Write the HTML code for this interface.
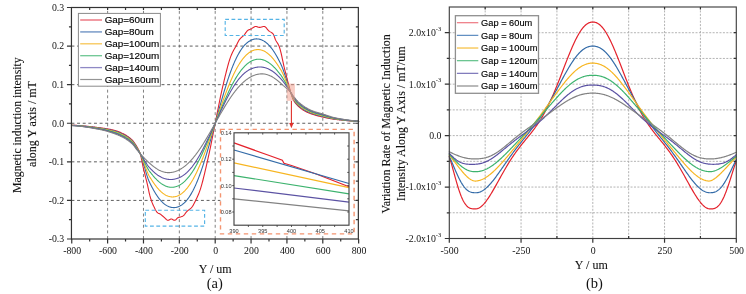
<!DOCTYPE html>
<html><head><meta charset="utf-8"><style>
html,body{margin:0;padding:0;background:#fff;}
body{width:746px;height:294px;overflow:hidden;}
svg{display:block;will-change:transform;}
.ga{stroke:#555;stroke-width:0.95;stroke-dasharray:2.95 2.68;fill:none;}
.gav{stroke:#808080;stroke-width:1;stroke-dasharray:2.95 2.68;fill:none;}
.gb{stroke:#aaaaaa;stroke-width:0.9;stroke-dasharray:2 1.42;fill:none;}
.cv{fill:none;stroke-width:1.1;stroke-linejoin:round;stroke-linecap:round;}
.cvb{fill:none;stroke-width:1.2;stroke-linejoin:round;stroke-linecap:round;}
.ci{fill:none;stroke-width:1.2;}
.fr{fill:none;stroke:#333;stroke-width:1.2;}
.frb{fill:none;stroke:#404040;stroke-width:1.15;}
.tk{fill:none;stroke:#333;stroke-width:1.2;}
.tkb{fill:none;stroke:#333;stroke-width:1.2;}
.tki{fill:none;stroke:#333;stroke-width:0.8;}
.fi{fill:none;stroke:#444;stroke-width:1.15;}
text{font-family:"Liberation Serif",serif;fill:#111;}
.tl{font-size:9.8px;}
.sup{font-size:6.5px;}
.ti{font-size:12px;stroke:#111;stroke-width:0.1px;}
.cap{font-family:"Liberation Serif",serif;font-size:14.5px;}
.lg{fill:#fff;stroke:#8a8a8a;stroke-width:1;}
.lgb{fill:#fff;stroke:#8f8f8f;stroke-width:1.3;}
.ll{stroke-width:1.3;}
.lt{font-family:"Liberation Sans",sans-serif;font-size:9.9px;fill:#000;stroke:#000;stroke-width:0.15px;}
.ltb{font-family:"Liberation Sans",sans-serif;font-size:9.25px;fill:#000;stroke:#000;stroke-width:0.15px;}
.il{font-family:"Liberation Sans",sans-serif;font-size:5.6px;fill:#333;}
.bb{fill:none;stroke:#55b4e6;stroke-width:1.15;stroke-dasharray:3.8 2.5;}
.ob{stroke:#f49470;stroke-width:1.4;stroke-dasharray:4.4 3.6;}
</style></head>
<body><svg width="746" height="294" viewBox="0 0 746 294">
<line x1="107.61" y1="239.0" x2="107.61" y2="7.5" class="gav"/>
<line x1="143.48" y1="239.0" x2="143.48" y2="7.5" class="gav"/>
<line x1="179.34" y1="239.0" x2="179.34" y2="7.5" class="gav"/>
<line x1="215.20" y1="239.0" x2="215.20" y2="7.5" class="gav"/>
<line x1="251.06" y1="239.0" x2="251.06" y2="7.5" class="gav"/>
<line x1="286.93" y1="239.0" x2="286.93" y2="7.5" class="gav"/>
<line x1="322.79" y1="239.0" x2="322.79" y2="7.5" class="gav"/>
<line x1="71.45" y1="46.08" x2="358.35" y2="46.08" class="ga"/>
<line x1="71.45" y1="84.67" x2="358.35" y2="84.67" class="ga"/>
<line x1="71.45" y1="123.25" x2="358.35" y2="123.25" class="ga"/>
<line x1="71.45" y1="161.83" x2="358.35" y2="161.83" class="ga"/>
<line x1="71.45" y1="200.42" x2="358.35" y2="200.42" class="ga"/>
<path d="M71.75,125.18 L72.20,125.20 L72.65,125.21 L73.09,125.23 L73.54,125.25 L73.99,125.27 L74.44,125.29 L74.89,125.32 L75.34,125.34 L75.78,125.36 L76.23,125.39 L76.68,125.42 L77.13,125.45 L77.58,125.47 L78.03,125.50 L78.47,125.53 L78.92,125.57 L79.37,125.60 L79.82,125.63 L80.27,125.67 L80.72,125.70 L81.16,125.74 L81.61,125.77 L82.06,125.81 L82.51,125.85 L82.96,125.89 L83.41,125.93 L83.85,125.97 L84.30,126.01 L84.75,126.05 L85.20,126.09 L85.65,126.13 L86.09,126.18 L86.54,126.22 L86.99,126.27 L87.44,126.31 L87.89,126.36 L88.34,126.41 L88.78,126.45 L89.23,126.50 L89.68,126.55 L90.13,126.60 L90.58,126.65 L91.03,126.70 L91.47,126.75 L91.92,126.80 L92.37,126.85 L92.82,126.90 L93.27,126.95 L93.72,127.00 L94.16,127.06 L94.61,127.11 L95.06,127.16 L95.51,127.22 L95.96,127.27 L96.41,127.32 L96.85,127.38 L97.30,127.43 L97.75,127.49 L98.20,127.54 L98.65,127.60 L99.10,127.65 L99.54,127.71 L99.99,127.77 L100.44,127.82 L100.89,127.88 L101.34,127.94 L101.78,128.00 L102.23,128.06 L102.68,128.12 L103.13,128.19 L103.58,128.25 L104.03,128.32 L104.47,128.38 L104.92,128.45 L105.37,128.52 L105.82,128.59 L106.27,128.67 L106.72,128.74 L107.16,128.82 L107.61,128.89 L108.06,128.97 L108.51,129.06 L108.96,129.14 L109.41,129.22 L109.85,129.31 L110.30,129.40 L110.75,129.49 L111.20,129.59 L111.65,129.68 L112.10,129.78 L112.54,129.88 L112.99,129.98 L113.44,130.09 L113.89,130.20 L114.34,130.31 L114.78,130.42 L115.23,130.54 L115.68,130.66 L116.13,130.79 L116.58,130.93 L117.03,131.08 L117.47,131.24 L117.92,131.40 L118.37,131.57 L118.82,131.75 L119.27,131.93 L119.72,132.12 L120.16,132.32 L120.61,132.52 L121.06,132.72 L121.51,132.93 L121.96,133.15 L122.41,133.37 L122.85,133.59 L123.30,133.81 L123.75,134.05 L124.20,134.28 L124.65,134.52 L125.10,134.77 L125.54,135.03 L125.99,135.29 L126.44,135.56 L126.89,135.85 L127.34,136.14 L127.79,136.44 L128.23,136.75 L128.68,137.07 L129.13,137.41 L129.58,137.76 L130.03,138.12 L130.47,138.49 L130.92,138.88 L131.37,139.29 L131.82,139.71 L132.27,140.15 L132.72,140.64 L133.16,141.17 L133.61,141.74 L134.06,142.36 L134.51,143.00 L134.96,143.68 L135.41,144.38 L135.85,145.10 L136.30,145.84 L136.75,146.60 L137.20,147.36 L137.65,148.13 L138.10,148.92 L138.54,149.76 L138.99,150.66 L139.44,151.65 L139.89,152.75 L140.34,154.00 L140.79,155.59 L141.23,157.54 L141.68,159.72 L142.13,162.03 L142.58,164.33 L143.03,166.52 L143.48,168.51 L143.92,170.38 L144.37,172.21 L144.82,174.00 L145.27,175.77 L145.72,177.54 L146.16,179.33 L146.61,181.15 L147.06,183.02 L147.51,184.99 L147.96,187.07 L148.41,189.19 L148.85,191.30 L149.30,193.31 L149.75,195.18 L150.20,196.83 L150.65,198.30 L151.10,199.69 L151.54,201.00 L151.99,202.22 L152.44,203.36 L152.89,204.41 L153.34,205.40 L153.79,206.37 L154.23,207.32 L154.68,208.26 L155.13,209.15 L155.58,209.99 L156.03,210.76 L156.48,211.45 L156.92,212.05 L157.37,212.53 L157.82,212.90 L158.27,213.18 L158.72,213.40 L159.16,213.60 L159.61,213.80 L160.06,214.03 L160.51,214.31 L160.96,214.62 L161.41,214.97 L161.85,215.34 L162.30,215.72 L162.75,216.12 L163.20,216.51 L163.65,216.91 L164.10,217.29 L164.54,217.66 L164.99,218.07 L165.44,218.54 L165.89,219.01 L166.34,219.45 L166.79,219.84 L167.23,220.12 L167.68,220.27 L168.13,220.26 L168.58,220.14 L169.03,219.93 L169.48,219.68 L169.92,219.43 L170.37,219.20 L170.82,219.04 L171.27,218.98 L171.72,219.04 L172.17,219.20 L172.61,219.43 L173.06,219.68 L173.51,219.93 L173.96,220.14 L174.41,220.26 L174.85,220.27 L175.30,220.08 L175.75,219.74 L176.20,219.29 L176.65,218.80 L177.10,218.32 L177.54,217.91 L177.99,217.62 L178.44,217.46 L178.89,217.34 L179.34,217.24 L179.79,217.15 L180.23,217.05 L180.68,216.92 L181.13,216.77 L181.58,216.59 L182.03,216.39 L182.48,216.17 L182.92,215.92 L183.37,215.64 L183.82,215.29 L184.27,214.83 L184.72,214.28 L185.17,213.67 L185.61,213.05 L186.06,212.44 L186.51,211.88 L186.96,211.40 L187.41,210.98 L187.85,210.60 L188.30,210.25 L188.75,209.92 L189.20,209.59 L189.65,209.25 L190.10,208.91 L190.54,208.53 L190.99,208.12 L191.44,207.66 L191.89,207.15 L192.34,206.54 L192.79,205.86 L193.23,205.11 L193.68,204.30 L194.13,203.45 L194.58,202.57 L195.03,201.66 L195.48,200.75 L195.92,199.85 L196.37,198.94 L196.82,198.02 L197.27,197.07 L197.72,196.09 L198.17,195.06 L198.61,193.99 L199.06,192.86 L199.51,191.67 L199.96,190.40 L200.41,189.05 L200.86,187.62 L201.30,186.13 L201.75,184.56 L202.20,182.93 L202.65,181.25 L203.10,179.51 L203.54,177.72 L203.99,175.90 L204.44,174.03 L204.89,172.14 L205.34,170.21 L205.79,168.27 L206.23,166.31 L206.68,164.33 L207.13,162.35 L207.58,160.37 L208.03,158.39 L208.48,156.41 L208.92,154.39 L209.37,152.31 L209.82,150.19 L210.27,148.03 L210.72,145.83 L211.17,143.60 L211.61,141.35 L212.06,139.09 L212.51,136.81 L212.96,134.53 L213.41,132.25 L213.86,129.97 L214.30,127.71 L214.75,125.47 L215.20,123.25 L215.65,121.03 L216.10,118.77 L216.54,116.50 L216.99,114.21 L217.44,111.90 L217.89,109.60 L218.34,107.31 L218.79,105.03 L219.23,102.77 L219.68,100.53 L220.13,98.34 L220.58,96.19 L221.03,94.09 L221.48,92.04 L221.92,90.07 L222.37,88.15 L222.82,86.23 L223.27,84.31 L223.72,82.40 L224.17,80.49 L224.61,78.60 L225.06,76.72 L225.51,74.87 L225.96,73.04 L226.41,71.25 L226.86,69.49 L227.30,67.77 L227.75,66.10 L228.20,64.48 L228.65,62.92 L229.10,61.41 L229.55,59.97 L229.99,58.60 L230.44,57.31 L230.89,56.09 L231.34,54.96 L231.79,53.91 L232.23,52.94 L232.68,52.03 L233.13,51.17 L233.58,50.35 L234.03,49.56 L234.48,48.79 L234.92,48.01 L235.37,47.22 L235.82,46.42 L236.27,45.57 L236.72,44.68 L237.17,43.77 L237.61,42.86 L238.06,41.96 L238.51,41.11 L238.96,40.33 L239.41,39.62 L239.86,39.03 L240.30,38.52 L240.75,38.06 L241.20,37.65 L241.65,37.26 L242.10,36.89 L242.55,36.52 L242.99,36.14 L243.44,35.73 L243.89,35.28 L244.34,34.77 L244.79,34.19 L245.23,33.57 L245.68,32.93 L246.13,32.30 L246.58,31.71 L247.03,31.16 L247.48,30.69 L247.92,30.32 L248.37,30.05 L248.82,29.83 L249.27,29.63 L249.72,29.46 L250.17,29.29 L250.61,29.11 L251.06,28.91 L251.51,28.68 L251.96,28.40 L252.41,28.10 L252.86,27.79 L253.30,27.48 L253.75,27.19 L254.20,26.93 L254.65,26.72 L255.10,26.57 L255.55,26.49 L255.99,26.50 L256.44,26.58 L256.89,26.71 L257.34,26.88 L257.79,27.05 L258.24,27.21 L258.68,27.33 L259.13,27.40 L259.58,27.40 L260.03,27.35 L260.48,27.27 L260.92,27.17 L261.37,27.05 L261.82,26.92 L262.27,26.79 L262.72,26.68 L263.17,26.58 L263.61,26.51 L264.06,26.48 L264.51,26.53 L264.96,26.73 L265.41,27.05 L265.86,27.47 L266.30,27.96 L266.75,28.50 L267.20,29.06 L267.65,29.62 L268.10,30.16 L268.55,30.64 L268.99,31.04 L269.44,31.36 L269.89,31.64 L270.34,31.89 L270.79,32.14 L271.24,32.39 L271.68,32.67 L272.13,32.99 L272.58,33.37 L273.03,33.84 L273.48,34.59 L273.92,35.61 L274.37,36.79 L274.82,38.02 L275.27,39.18 L275.72,40.17 L276.17,41.00 L276.61,41.75 L277.06,42.45 L277.51,43.16 L277.96,43.90 L278.41,44.72 L278.86,45.66 L279.30,46.78 L279.75,48.11 L280.20,49.65 L280.65,51.36 L281.10,53.21 L281.55,55.17 L281.99,57.20 L282.44,59.29 L282.89,61.39 L283.34,63.48 L283.79,65.53 L284.24,67.50 L284.68,69.38 L285.13,71.15 L285.58,72.91 L286.03,74.65 L286.48,76.38 L286.93,78.10 L287.37,79.82 L287.82,81.52 L288.27,83.23 L288.72,84.94 L289.17,86.69 L289.61,88.46 L290.06,90.19 L290.51,91.80 L290.96,93.24 L291.41,94.64 L291.86,96.00 L292.30,97.28 L292.75,98.46 L293.20,99.51 L293.65,100.41 L294.10,101.16 L294.55,101.86 L294.99,102.52 L295.44,103.13 L295.89,103.69 L296.34,104.23 L296.79,104.73 L297.24,105.20 L297.68,105.65 L298.13,106.08 L298.58,106.49 L299.03,106.89 L299.48,107.28 L299.93,107.66 L300.37,108.02 L300.82,108.38 L301.27,108.72 L301.72,109.05 L302.17,109.36 L302.61,109.67 L303.06,109.96 L303.51,110.25 L303.96,110.52 L304.41,110.79 L304.86,111.04 L305.30,111.29 L305.75,111.52 L306.20,111.75 L306.65,111.97 L307.10,112.18 L307.55,112.38 L307.99,112.58 L308.44,112.77 L308.89,112.96 L309.34,113.14 L309.79,113.31 L310.24,113.48 L310.68,113.65 L311.13,113.81 L311.58,113.97 L312.03,114.12 L312.48,114.27 L312.93,114.42 L313.37,114.56 L313.82,114.70 L314.27,114.84 L314.72,114.98 L315.17,115.12 L315.62,115.25 L316.06,115.38 L316.51,115.51 L316.96,115.63 L317.41,115.75 L317.86,115.88 L318.30,115.99 L318.75,116.11 L319.20,116.23 L319.65,116.34 L320.10,116.45 L320.55,116.56 L320.99,116.67 L321.44,116.77 L321.89,116.87 L322.34,116.98 L322.79,117.08 L323.24,117.18 L323.68,117.27 L324.13,117.37 L324.58,117.47 L325.03,117.57 L325.48,117.66 L325.93,117.76 L326.37,117.85 L326.82,117.95 L327.27,118.04 L327.72,118.13 L328.17,118.22 L328.62,118.31 L329.06,118.39 L329.51,118.48 L329.96,118.56 L330.41,118.64 L330.86,118.72 L331.30,118.80 L331.75,118.88 L332.20,118.95 L332.65,119.02 L333.10,119.09 L333.55,119.16 L333.99,119.22 L334.44,119.28 L334.89,119.34 L335.34,119.39 L335.79,119.44 L336.24,119.50 L336.68,119.55 L337.13,119.60 L337.58,119.66 L338.03,119.71 L338.48,119.76 L338.93,119.81 L339.37,119.86 L339.82,119.91 L340.27,119.96 L340.72,120.01 L341.17,120.06 L341.62,120.11 L342.06,120.16 L342.51,120.21 L342.96,120.26 L343.41,120.30 L343.86,120.35 L344.31,120.40 L344.75,120.44 L345.20,120.49 L345.65,120.53 L346.10,120.57 L346.55,120.61 L346.99,120.65 L347.44,120.69 L347.89,120.73 L348.34,120.77 L348.79,120.81 L349.24,120.84 L349.68,120.88 L350.13,120.91 L350.58,120.95 L351.03,120.98 L351.48,121.01 L351.93,121.04 L352.37,121.07 L352.82,121.09 L353.27,121.12 L353.72,121.14 L354.17,121.17 L354.62,121.19 L355.06,121.21 L355.51,121.23 L355.96,121.25 L356.41,121.26 L356.86,121.28 L357.31,121.29 L357.75,121.30 L358.20,121.31 L358.65,121.32" stroke="#e4222c" class="cv"/>
<path d="M71.75,125.26 L72.20,125.27 L72.65,125.29 L73.09,125.31 L73.54,125.33 L73.99,125.36 L74.44,125.38 L74.89,125.40 L75.34,125.43 L75.78,125.46 L76.23,125.49 L76.68,125.52 L77.13,125.55 L77.58,125.58 L78.03,125.61 L78.47,125.64 L78.92,125.68 L79.37,125.71 L79.82,125.75 L80.27,125.79 L80.72,125.83 L81.16,125.87 L81.61,125.91 L82.06,125.95 L82.51,125.99 L82.96,126.03 L83.41,126.08 L83.85,126.12 L84.30,126.17 L84.75,126.21 L85.20,126.26 L85.65,126.31 L86.09,126.36 L86.54,126.41 L86.99,126.46 L87.44,126.51 L87.89,126.56 L88.34,126.61 L88.78,126.66 L89.23,126.72 L89.68,126.77 L90.13,126.82 L90.58,126.88 L91.03,126.93 L91.47,126.99 L91.92,127.05 L92.37,127.10 L92.82,127.16 L93.27,127.22 L93.72,127.27 L94.16,127.33 L94.61,127.39 L95.06,127.45 L95.51,127.51 L95.96,127.57 L96.41,127.63 L96.85,127.69 L97.30,127.75 L97.75,127.81 L98.20,127.87 L98.65,127.94 L99.10,128.00 L99.54,128.06 L99.99,128.12 L100.44,128.19 L100.89,128.25 L101.34,128.32 L101.78,128.39 L102.23,128.45 L102.68,128.53 L103.13,128.60 L103.58,128.67 L104.03,128.75 L104.47,128.82 L104.92,128.90 L105.37,128.98 L105.82,129.06 L106.27,129.14 L106.72,129.23 L107.16,129.32 L107.61,129.40 L108.06,129.49 L108.51,129.59 L108.96,129.68 L109.41,129.78 L109.85,129.87 L110.30,129.97 L110.75,130.08 L111.20,130.18 L111.65,130.29 L112.10,130.39 L112.54,130.51 L112.99,130.62 L113.44,130.73 L113.89,130.85 L114.34,130.97 L114.78,131.09 L115.23,131.22 L115.68,131.35 L116.13,131.49 L116.58,131.64 L117.03,131.80 L117.47,131.96 L117.92,132.13 L118.37,132.30 L118.82,132.48 L119.27,132.67 L119.72,132.86 L120.16,133.05 L120.61,133.26 L121.06,133.46 L121.51,133.68 L121.96,133.89 L122.41,134.12 L122.85,134.34 L123.30,134.57 L123.75,134.80 L124.20,135.04 L124.65,135.29 L125.10,135.54 L125.54,135.80 L125.99,136.06 L126.44,136.34 L126.89,136.62 L127.34,136.91 L127.79,137.21 L128.23,137.52 L128.68,137.85 L129.13,138.18 L129.58,138.53 L130.03,138.89 L130.47,139.26 L130.92,139.65 L131.37,140.05 L131.82,140.46 L132.27,140.90 L132.72,141.39 L133.16,141.91 L133.61,142.48 L134.06,143.09 L134.51,143.72 L134.96,144.38 L135.41,145.06 L135.85,145.76 L136.30,146.48 L136.75,147.20 L137.20,147.93 L137.65,148.67 L138.10,149.45 L138.54,150.25 L138.99,151.10 L139.44,151.99 L139.89,152.93 L140.34,153.94 L140.79,155.04 L141.23,156.24 L141.68,157.53 L142.13,158.90 L142.58,160.34 L143.03,161.84 L143.48,163.37 L143.92,164.94 L144.37,166.53 L144.82,168.13 L145.27,169.72 L145.72,171.29 L146.16,172.84 L146.61,174.35 L147.06,175.80 L147.51,177.19 L147.96,178.50 L148.41,179.72 L148.85,180.85 L149.30,181.86 L149.75,182.79 L150.20,183.67 L150.65,184.55 L151.10,185.44 L151.54,186.32 L151.99,187.18 L152.44,188.03 L152.89,188.86 L153.34,189.67 L153.79,190.47 L154.23,191.25 L154.68,192.01 L155.13,192.76 L155.58,193.48 L156.03,194.19 L156.48,194.88 L156.92,195.55 L157.37,196.21 L157.82,196.84 L158.27,197.46 L158.72,198.06 L159.16,198.64 L159.61,199.20 L160.06,199.73 L160.51,200.26 L160.96,200.76 L161.41,201.24 L161.85,201.71 L162.30,202.16 L162.75,202.59 L163.20,202.99 L163.65,203.38 L164.10,203.76 L164.54,204.11 L164.99,204.45 L165.44,204.77 L165.89,205.07 L166.34,205.35 L166.79,205.62 L167.23,205.87 L167.68,206.10 L168.13,206.32 L168.58,206.51 L169.03,206.69 L169.48,206.86 L169.92,207.01 L170.37,207.13 L170.82,207.25 L171.27,207.35 L171.72,207.44 L172.17,207.49 L172.61,207.53 L173.06,207.56 L173.51,207.58 L173.96,207.59 L174.41,207.58 L174.85,207.54 L175.30,207.49 L175.75,207.43 L176.20,207.35 L176.65,207.25 L177.10,207.13 L177.54,207.00 L177.99,206.86 L178.44,206.69 L178.89,206.50 L179.34,206.30 L179.79,206.09 L180.23,205.85 L180.68,205.59 L181.13,205.32 L181.58,205.03 L182.03,204.72 L182.48,204.39 L182.92,204.04 L183.37,203.67 L183.82,203.29 L184.27,202.88 L184.72,202.45 L185.17,202.00 L185.61,201.53 L186.06,201.04 L186.51,200.52 L186.96,199.99 L187.41,199.43 L187.85,198.85 L188.30,198.25 L188.75,197.63 L189.20,196.98 L189.65,196.31 L190.10,195.61 L190.54,194.90 L190.99,194.15 L191.44,193.39 L191.89,192.60 L192.34,191.79 L192.79,190.95 L193.23,190.08 L193.68,189.20 L194.13,188.29 L194.58,187.35 L195.03,186.39 L195.48,185.41 L195.92,184.40 L196.37,183.36 L196.82,182.31 L197.27,181.22 L197.72,180.12 L198.17,178.99 L198.61,177.84 L199.06,176.66 L199.51,175.47 L199.96,174.25 L200.41,173.00 L200.86,171.74 L201.30,170.46 L201.75,169.15 L202.20,167.82 L202.65,166.47 L203.10,165.11 L203.54,163.72 L203.99,162.32 L204.44,160.90 L204.89,159.46 L205.34,158.00 L205.79,156.53 L206.23,155.05 L206.68,153.55 L207.13,152.03 L207.58,150.50 L208.03,148.96 L208.48,147.41 L208.92,145.85 L209.37,144.27 L209.82,142.69 L210.27,141.10 L210.72,139.50 L211.17,137.90 L211.61,136.28 L212.06,134.67 L212.51,133.04 L212.96,131.42 L213.41,129.79 L213.86,128.16 L214.30,126.52 L214.75,124.89 L215.20,123.25 L215.65,121.61 L216.10,119.98 L216.54,118.34 L216.99,116.71 L217.44,115.08 L217.89,113.46 L218.34,111.83 L218.79,110.22 L219.23,108.60 L219.68,107.00 L220.13,105.40 L220.58,103.81 L221.03,102.23 L221.48,100.65 L221.92,99.09 L222.37,97.54 L222.82,96.00 L223.27,94.47 L223.72,92.95 L224.17,91.45 L224.61,89.97 L225.06,88.50 L225.51,87.04 L225.96,85.60 L226.41,84.18 L226.86,82.78 L227.30,81.39 L227.75,80.03 L228.20,78.68 L228.65,77.35 L229.10,76.04 L229.55,74.76 L229.99,73.50 L230.44,72.25 L230.89,71.03 L231.34,69.84 L231.79,68.66 L232.23,67.51 L232.68,66.38 L233.13,65.28 L233.58,64.19 L234.03,63.14 L234.48,62.10 L234.92,61.09 L235.37,60.11 L235.82,59.15 L236.27,58.21 L236.72,57.30 L237.17,56.42 L237.61,55.55 L238.06,54.71 L238.51,53.90 L238.96,53.11 L239.41,52.35 L239.86,51.60 L240.30,50.89 L240.75,50.19 L241.20,49.52 L241.65,48.87 L242.10,48.25 L242.55,47.65 L242.99,47.07 L243.44,46.51 L243.89,45.98 L244.34,45.46 L244.79,44.97 L245.23,44.50 L245.68,44.05 L246.13,43.62 L246.58,43.21 L247.03,42.83 L247.48,42.46 L247.92,42.11 L248.37,41.78 L248.82,41.47 L249.27,41.18 L249.72,40.91 L250.17,40.65 L250.61,40.41 L251.06,40.20 L251.51,40.00 L251.96,39.81 L252.41,39.64 L252.86,39.50 L253.30,39.37 L253.75,39.25 L254.20,39.15 L254.65,39.07 L255.10,39.01 L255.55,38.96 L255.99,38.92 L256.44,38.91 L256.89,38.92 L257.34,38.94 L257.79,38.97 L258.24,39.01 L258.68,39.06 L259.13,39.15 L259.58,39.25 L260.03,39.37 L260.48,39.49 L260.92,39.64 L261.37,39.81 L261.82,39.99 L262.27,40.18 L262.72,40.40 L263.17,40.63 L263.61,40.88 L264.06,41.15 L264.51,41.43 L264.96,41.73 L265.41,42.05 L265.86,42.39 L266.30,42.74 L266.75,43.12 L267.20,43.51 L267.65,43.91 L268.10,44.34 L268.55,44.79 L268.99,45.26 L269.44,45.74 L269.89,46.24 L270.34,46.77 L270.79,47.30 L271.24,47.86 L271.68,48.44 L272.13,49.04 L272.58,49.66 L273.03,50.29 L273.48,50.95 L273.92,51.62 L274.37,52.31 L274.82,53.02 L275.27,53.74 L275.72,54.49 L276.17,55.25 L276.61,56.03 L277.06,56.83 L277.51,57.64 L277.96,58.47 L278.41,59.32 L278.86,60.18 L279.30,61.06 L279.75,61.95 L280.20,62.84 L280.65,63.73 L281.10,64.65 L281.55,65.65 L281.99,66.73 L282.44,67.87 L282.89,69.06 L283.34,70.29 L283.79,71.58 L284.24,72.89 L284.68,74.24 L285.13,75.62 L285.58,77.01 L286.03,78.41 L286.48,79.83 L286.93,81.24 L287.37,82.65 L287.82,84.05 L288.27,85.44 L288.72,86.80 L289.17,88.13 L289.61,89.43 L290.06,90.70 L290.51,91.91 L290.96,93.09 L291.41,94.30 L291.86,95.51 L292.30,96.68 L292.75,97.78 L293.20,98.77 L293.65,99.63 L294.10,100.35 L294.55,101.03 L294.99,101.66 L295.44,102.25 L295.89,102.81 L296.34,103.34 L296.79,103.84 L297.24,104.31 L297.68,104.76 L298.13,105.20 L298.58,105.61 L299.03,106.01 L299.48,106.40 L299.93,106.78 L300.37,107.15 L300.82,107.50 L301.27,107.85 L301.72,108.18 L302.17,108.50 L302.61,108.81 L303.06,109.11 L303.51,109.40 L303.96,109.68 L304.41,109.95 L304.86,110.21 L305.30,110.46 L305.75,110.70 L306.20,110.94 L306.65,111.17 L307.10,111.39 L307.55,111.60 L307.99,111.81 L308.44,112.01 L308.89,112.21 L309.34,112.40 L309.79,112.58 L310.24,112.76 L310.68,112.94 L311.13,113.11 L311.58,113.27 L312.03,113.43 L312.48,113.59 L312.93,113.74 L313.37,113.89 L313.82,114.04 L314.27,114.18 L314.72,114.32 L315.17,114.45 L315.62,114.59 L316.06,114.72 L316.51,114.85 L316.96,114.97 L317.41,115.10 L317.86,115.22 L318.30,115.34 L318.75,115.46 L319.20,115.57 L319.65,115.69 L320.10,115.80 L320.55,115.91 L320.99,116.02 L321.44,116.13 L321.89,116.24 L322.34,116.35 L322.79,116.46 L323.24,116.57 L323.68,116.67 L324.13,116.78 L324.58,116.89 L325.03,117.00 L325.48,117.11 L325.93,117.21 L326.37,117.32 L326.82,117.43 L327.27,117.53 L327.72,117.63 L328.17,117.74 L328.62,117.84 L329.06,117.94 L329.51,118.04 L329.96,118.13 L330.41,118.23 L330.86,118.32 L331.30,118.41 L331.75,118.49 L332.20,118.58 L332.65,118.66 L333.10,118.74 L333.55,118.81 L333.99,118.89 L334.44,118.96 L334.89,119.02 L335.34,119.08 L335.79,119.14 L336.24,119.20 L336.68,119.26 L337.13,119.32 L337.58,119.38 L338.03,119.44 L338.48,119.50 L338.93,119.56 L339.37,119.61 L339.82,119.67 L340.27,119.73 L340.72,119.78 L341.17,119.84 L341.62,119.90 L342.06,119.95 L342.51,120.00 L342.96,120.06 L343.41,120.11 L343.86,120.16 L344.31,120.21 L344.75,120.26 L345.20,120.31 L345.65,120.36 L346.10,120.41 L346.55,120.46 L346.99,120.50 L347.44,120.55 L347.89,120.59 L348.34,120.63 L348.79,120.68 L349.24,120.72 L349.68,120.76 L350.13,120.79 L350.58,120.83 L351.03,120.87 L351.48,120.90 L351.93,120.93 L352.37,120.97 L352.82,121.00 L353.27,121.02 L353.72,121.05 L354.17,121.08 L354.62,121.10 L355.06,121.12 L355.51,121.15 L355.96,121.16 L356.41,121.18 L356.86,121.20 L357.31,121.21 L357.75,121.22 L358.20,121.24 L358.65,121.24" stroke="#336ba8" class="cv"/>
<path d="M71.75,125.33 L72.20,125.35 L72.65,125.37 L73.09,125.39 L73.54,125.42 L73.99,125.44 L74.44,125.47 L74.89,125.49 L75.34,125.52 L75.78,125.55 L76.23,125.58 L76.68,125.61 L77.13,125.65 L77.58,125.68 L78.03,125.72 L78.47,125.75 L78.92,125.79 L79.37,125.83 L79.82,125.87 L80.27,125.91 L80.72,125.95 L81.16,126.00 L81.61,126.04 L82.06,126.09 L82.51,126.13 L82.96,126.18 L83.41,126.23 L83.85,126.28 L84.30,126.33 L84.75,126.38 L85.20,126.43 L85.65,126.48 L86.09,126.54 L86.54,126.59 L86.99,126.64 L87.44,126.70 L87.89,126.76 L88.34,126.81 L88.78,126.87 L89.23,126.93 L89.68,126.99 L90.13,127.05 L90.58,127.11 L91.03,127.17 L91.47,127.23 L91.92,127.29 L92.37,127.35 L92.82,127.42 L93.27,127.48 L93.72,127.55 L94.16,127.61 L94.61,127.67 L95.06,127.74 L95.51,127.81 L95.96,127.87 L96.41,127.94 L96.85,128.00 L97.30,128.07 L97.75,128.14 L98.20,128.21 L98.65,128.27 L99.10,128.34 L99.54,128.41 L99.99,128.48 L100.44,128.55 L100.89,128.62 L101.34,128.70 L101.78,128.77 L102.23,128.85 L102.68,128.93 L103.13,129.01 L103.58,129.09 L104.03,129.18 L104.47,129.26 L104.92,129.35 L105.37,129.44 L105.82,129.53 L106.27,129.62 L106.72,129.72 L107.16,129.82 L107.61,129.91 L108.06,130.02 L108.51,130.12 L108.96,130.22 L109.41,130.33 L109.85,130.44 L110.30,130.55 L110.75,130.66 L111.20,130.78 L111.65,130.89 L112.10,131.01 L112.54,131.13 L112.99,131.26 L113.44,131.38 L113.89,131.51 L114.34,131.64 L114.78,131.77 L115.23,131.90 L115.68,132.05 L116.13,132.19 L116.58,132.35 L117.03,132.51 L117.47,132.67 L117.92,132.85 L118.37,133.02 L118.82,133.21 L119.27,133.40 L119.72,133.59 L120.16,133.79 L120.61,134.00 L121.06,134.21 L121.51,134.42 L121.96,134.64 L122.41,134.86 L122.85,135.09 L123.30,135.33 L123.75,135.56 L124.20,135.80 L124.65,136.05 L125.10,136.31 L125.54,136.57 L125.99,136.83 L126.44,137.11 L126.89,137.39 L127.34,137.68 L127.79,137.99 L128.23,138.30 L128.68,138.62 L129.13,138.95 L129.58,139.30 L130.03,139.66 L130.47,140.03 L130.92,140.41 L131.37,140.81 L131.82,141.22 L132.27,141.66 L132.72,142.14 L133.16,142.66 L133.61,143.22 L134.06,143.82 L134.51,144.44 L134.96,145.09 L135.41,145.75 L135.85,146.43 L136.30,147.11 L136.75,147.80 L137.20,148.49 L137.65,149.19 L138.10,149.90 L138.54,150.64 L138.99,151.40 L139.44,152.20 L139.89,153.03 L140.34,153.91 L140.79,154.85 L141.23,155.86 L141.68,156.93 L142.13,158.05 L142.58,159.21 L143.03,160.41 L143.48,161.64 L143.92,162.88 L144.37,164.14 L144.82,165.39 L145.27,166.64 L145.72,167.88 L146.16,169.09 L146.61,170.27 L147.06,171.41 L147.51,172.50 L147.96,173.53 L148.41,174.50 L148.85,175.40 L149.30,176.21 L149.75,176.95 L150.20,177.66 L150.65,178.37 L151.10,179.08 L151.54,179.79 L151.99,180.49 L152.44,181.17 L152.89,181.84 L153.34,182.50 L153.79,183.15 L154.23,183.78 L154.68,184.40 L155.13,185.01 L155.58,185.61 L156.03,186.19 L156.48,186.76 L156.92,187.31 L157.37,187.85 L157.82,188.37 L158.27,188.88 L158.72,189.38 L159.16,189.86 L159.61,190.32 L160.06,190.77 L160.51,191.20 L160.96,191.62 L161.41,192.02 L161.85,192.41 L162.30,192.78 L162.75,193.14 L163.20,193.48 L163.65,193.80 L164.10,194.11 L164.54,194.40 L164.99,194.68 L165.44,194.94 L165.89,195.19 L166.34,195.42 L166.79,195.63 L167.23,195.82 L167.68,196.01 L168.13,196.17 L168.58,196.32 L169.03,196.45 L169.48,196.57 L169.92,196.68 L170.37,196.76 L170.82,196.82 L171.27,196.88 L171.72,196.92 L172.17,196.94 L172.61,196.93 L173.06,196.92 L173.51,196.89 L173.96,196.86 L174.41,196.81 L174.85,196.73 L175.30,196.64 L175.75,196.53 L176.20,196.41 L176.65,196.27 L177.10,196.11 L177.54,195.93 L177.99,195.75 L178.44,195.54 L178.89,195.31 L179.34,195.07 L179.79,194.82 L180.23,194.54 L180.68,194.25 L181.13,193.94 L181.58,193.62 L182.03,193.28 L182.48,192.92 L182.92,192.54 L183.37,192.15 L183.82,191.73 L184.27,191.30 L184.72,190.86 L185.17,190.39 L185.61,189.91 L186.06,189.41 L186.51,188.89 L186.96,188.35 L187.41,187.80 L187.85,187.22 L188.30,186.63 L188.75,186.02 L189.20,185.39 L189.65,184.75 L190.10,184.08 L190.54,183.40 L190.99,182.70 L191.44,181.98 L191.89,181.24 L192.34,180.49 L192.79,179.72 L193.23,178.92 L193.68,178.12 L194.13,177.29 L194.58,176.45 L195.03,175.58 L195.48,174.70 L195.92,173.81 L196.37,172.89 L196.82,171.96 L197.27,171.02 L197.72,170.05 L198.17,169.07 L198.61,168.08 L199.06,167.07 L199.51,166.04 L199.96,165.00 L200.41,163.94 L200.86,162.87 L201.30,161.78 L201.75,160.68 L202.20,159.57 L202.65,158.44 L203.10,157.30 L203.54,156.15 L203.99,154.98 L204.44,153.80 L204.89,152.62 L205.34,151.42 L205.79,150.21 L206.23,148.99 L206.68,147.76 L207.13,146.52 L207.58,145.28 L208.03,144.02 L208.48,142.76 L208.92,141.49 L209.37,140.22 L209.82,138.93 L210.27,137.65 L210.72,136.35 L211.17,135.06 L211.61,133.75 L212.06,132.45 L212.51,131.14 L212.96,129.83 L213.41,128.52 L213.86,127.20 L214.30,125.88 L214.75,124.57 L215.20,123.25 L215.65,121.93 L216.10,120.62 L216.54,119.30 L216.99,117.98 L217.44,116.67 L217.89,115.36 L218.34,114.05 L218.79,112.75 L219.23,111.44 L219.68,110.15 L220.13,108.85 L220.58,107.57 L221.03,106.28 L221.48,105.01 L221.92,103.74 L222.37,102.48 L222.82,101.22 L223.27,99.98 L223.72,98.74 L224.17,97.51 L224.61,96.29 L225.06,95.08 L225.51,93.88 L225.96,92.70 L226.41,91.52 L226.86,90.35 L227.30,89.20 L227.75,88.06 L228.20,86.93 L228.65,85.82 L229.10,84.72 L229.55,83.63 L229.99,82.56 L230.44,81.50 L230.89,80.46 L231.34,79.43 L231.79,78.42 L232.23,77.43 L232.68,76.45 L233.13,75.48 L233.58,74.54 L234.03,73.61 L234.48,72.69 L234.92,71.80 L235.37,70.92 L235.82,70.05 L236.27,69.21 L236.72,68.38 L237.17,67.58 L237.61,66.78 L238.06,66.01 L238.51,65.26 L238.96,64.52 L239.41,63.80 L239.86,63.10 L240.30,62.42 L240.75,61.75 L241.20,61.11 L241.65,60.48 L242.10,59.87 L242.55,59.28 L242.99,58.70 L243.44,58.15 L243.89,57.61 L244.34,57.09 L244.79,56.59 L245.23,56.11 L245.68,55.64 L246.13,55.20 L246.58,54.77 L247.03,54.35 L247.48,53.96 L247.92,53.58 L248.37,53.22 L248.82,52.88 L249.27,52.56 L249.72,52.25 L250.17,51.96 L250.61,51.68 L251.06,51.43 L251.51,51.19 L251.96,50.96 L252.41,50.75 L252.86,50.57 L253.30,50.39 L253.75,50.23 L254.20,50.09 L254.65,49.97 L255.10,49.86 L255.55,49.77 L255.99,49.69 L256.44,49.64 L256.89,49.61 L257.34,49.58 L257.79,49.57 L258.24,49.56 L258.68,49.58 L259.13,49.62 L259.58,49.68 L260.03,49.74 L260.48,49.82 L260.92,49.93 L261.37,50.05 L261.82,50.18 L262.27,50.33 L262.72,50.49 L263.17,50.68 L263.61,50.87 L264.06,51.08 L264.51,51.31 L264.96,51.56 L265.41,51.82 L265.86,52.10 L266.30,52.39 L266.75,52.70 L267.20,53.02 L267.65,53.36 L268.10,53.72 L268.55,54.09 L268.99,54.48 L269.44,54.88 L269.89,55.30 L270.34,55.73 L270.79,56.18 L271.24,56.64 L271.68,57.12 L272.13,57.62 L272.58,58.13 L273.03,58.65 L273.48,59.19 L273.92,59.74 L274.37,60.31 L274.82,60.89 L275.27,61.49 L275.72,62.10 L276.17,62.72 L276.61,63.35 L277.06,64.00 L277.51,64.66 L277.96,65.33 L278.41,66.01 L278.86,66.71 L279.30,67.42 L279.75,68.13 L280.20,68.85 L280.65,69.56 L281.10,70.30 L281.55,71.10 L281.99,71.96 L282.44,72.86 L282.89,73.79 L283.34,74.76 L283.79,75.76 L284.24,76.79 L284.68,77.84 L285.13,78.91 L285.58,80.00 L286.03,81.10 L286.48,82.21 L286.93,83.32 L287.37,84.44 L287.82,85.55 L288.27,86.66 L288.72,87.76 L289.17,88.84 L289.61,89.91 L290.06,90.96 L290.51,91.98 L290.96,92.99 L291.41,94.04 L291.86,95.11 L292.30,96.15 L292.75,97.14 L293.20,98.05 L293.65,98.85 L294.10,99.53 L294.55,100.18 L294.99,100.80 L295.44,101.38 L295.89,101.93 L296.34,102.45 L296.79,102.95 L297.24,103.43 L297.68,103.88 L298.13,104.31 L298.58,104.73 L299.03,105.13 L299.48,105.53 L299.93,105.90 L300.37,106.27 L300.82,106.63 L301.27,106.97 L301.72,107.31 L302.17,107.63 L302.61,107.95 L303.06,108.25 L303.51,108.55 L303.96,108.83 L304.41,109.11 L304.86,109.38 L305.30,109.63 L305.75,109.88 L306.20,110.13 L306.65,110.36 L307.10,110.60 L307.55,110.82 L307.99,111.04 L308.44,111.25 L308.89,111.46 L309.34,111.66 L309.79,111.85 L310.24,112.04 L310.68,112.23 L311.13,112.41 L311.58,112.58 L312.03,112.75 L312.48,112.91 L312.93,113.07 L313.37,113.22 L313.82,113.37 L314.27,113.51 L314.72,113.65 L315.17,113.79 L315.62,113.93 L316.06,114.06 L316.51,114.19 L316.96,114.32 L317.41,114.44 L317.86,114.56 L318.30,114.68 L318.75,114.80 L319.20,114.92 L319.65,115.04 L320.10,115.15 L320.55,115.27 L320.99,115.38 L321.44,115.50 L321.89,115.61 L322.34,115.73 L322.79,115.84 L323.24,115.96 L323.68,116.07 L324.13,116.19 L324.58,116.31 L325.03,116.43 L325.48,116.55 L325.93,116.67 L326.37,116.79 L326.82,116.90 L327.27,117.02 L327.72,117.14 L328.17,117.25 L328.62,117.37 L329.06,117.48 L329.51,117.59 L329.96,117.70 L330.41,117.80 L330.86,117.91 L331.30,118.01 L331.75,118.11 L332.20,118.21 L332.65,118.30 L333.10,118.39 L333.55,118.47 L333.99,118.55 L334.44,118.63 L334.89,118.71 L335.34,118.77 L335.79,118.84 L336.24,118.91 L336.68,118.97 L337.13,119.04 L337.58,119.10 L338.03,119.17 L338.48,119.24 L338.93,119.30 L339.37,119.36 L339.82,119.43 L340.27,119.49 L340.72,119.55 L341.17,119.62 L341.62,119.68 L342.06,119.74 L342.51,119.80 L342.96,119.86 L343.41,119.92 L343.86,119.97 L344.31,120.03 L344.75,120.09 L345.20,120.14 L345.65,120.20 L346.10,120.25 L346.55,120.30 L346.99,120.35 L347.44,120.40 L347.89,120.45 L348.34,120.50 L348.79,120.54 L349.24,120.59 L349.68,120.63 L350.13,120.67 L350.58,120.72 L351.03,120.76 L351.48,120.79 L351.93,120.83 L352.37,120.86 L352.82,120.90 L353.27,120.93 L353.72,120.96 L354.17,120.99 L354.62,121.01 L355.06,121.04 L355.51,121.06 L355.96,121.08 L356.41,121.10 L356.86,121.12 L357.31,121.13 L357.75,121.15 L358.20,121.16 L358.65,121.17" stroke="#f7b520" class="cv"/>
<path d="M71.75,125.41 L72.20,125.43 L72.65,125.45 L73.09,125.47 L73.54,125.50 L73.99,125.53 L74.44,125.55 L74.89,125.58 L75.34,125.61 L75.78,125.64 L76.23,125.68 L76.68,125.71 L77.13,125.75 L77.58,125.78 L78.03,125.82 L78.47,125.86 L78.92,125.90 L79.37,125.95 L79.82,125.99 L80.27,126.03 L80.72,126.08 L81.16,126.13 L81.61,126.18 L82.06,126.22 L82.51,126.28 L82.96,126.33 L83.41,126.38 L83.85,126.43 L84.30,126.49 L84.75,126.54 L85.20,126.60 L85.65,126.66 L86.09,126.71 L86.54,126.77 L86.99,126.83 L87.44,126.89 L87.89,126.95 L88.34,127.02 L88.78,127.08 L89.23,127.14 L89.68,127.21 L90.13,127.27 L90.58,127.34 L91.03,127.41 L91.47,127.47 L91.92,127.54 L92.37,127.61 L92.82,127.68 L93.27,127.75 L93.72,127.82 L94.16,127.89 L94.61,127.96 L95.06,128.03 L95.51,128.10 L95.96,128.17 L96.41,128.24 L96.85,128.32 L97.30,128.39 L97.75,128.46 L98.20,128.54 L98.65,128.61 L99.10,128.68 L99.54,128.76 L99.99,128.83 L100.44,128.91 L100.89,128.99 L101.34,129.07 L101.78,129.16 L102.23,129.24 L102.68,129.33 L103.13,129.42 L103.58,129.51 L104.03,129.61 L104.47,129.70 L104.92,129.80 L105.37,129.90 L105.82,130.00 L106.27,130.10 L106.72,130.21 L107.16,130.32 L107.61,130.43 L108.06,130.54 L108.51,130.65 L108.96,130.77 L109.41,130.88 L109.85,131.00 L110.30,131.12 L110.75,131.25 L111.20,131.37 L111.65,131.50 L112.10,131.63 L112.54,131.76 L112.99,131.89 L113.44,132.03 L113.89,132.17 L114.34,132.30 L114.78,132.45 L115.23,132.59 L115.68,132.74 L116.13,132.89 L116.58,133.05 L117.03,133.22 L117.47,133.39 L117.92,133.57 L118.37,133.75 L118.82,133.94 L119.27,134.13 L119.72,134.33 L120.16,134.53 L120.61,134.74 L121.06,134.95 L121.51,135.17 L121.96,135.39 L122.41,135.61 L122.85,135.85 L123.30,136.08 L123.75,136.32 L124.20,136.57 L124.65,136.82 L125.10,137.07 L125.54,137.33 L125.99,137.60 L126.44,137.88 L126.89,138.17 L127.34,138.46 L127.79,138.76 L128.23,139.07 L128.68,139.39 L129.13,139.73 L129.58,140.07 L130.03,140.43 L130.47,140.80 L130.92,141.18 L131.37,141.57 L131.82,141.98 L132.27,142.41 L132.72,142.89 L133.16,143.41 L133.61,143.96 L134.06,144.55 L134.51,145.17 L134.96,145.80 L135.41,146.44 L135.85,147.10 L136.30,147.75 L136.75,148.41 L137.20,149.05 L137.65,149.70 L138.10,150.35 L138.54,151.02 L138.99,151.71 L139.44,152.41 L139.89,153.14 L140.34,153.88 L140.79,154.66 L141.23,155.48 L141.68,156.33 L142.13,157.21 L142.58,158.11 L143.03,159.03 L143.48,159.96 L143.92,160.90 L144.37,161.84 L144.82,162.78 L145.27,163.71 L145.72,164.63 L146.16,165.54 L146.61,166.42 L147.06,167.27 L147.51,168.10 L147.96,168.89 L148.41,169.63 L148.85,170.33 L149.30,170.98 L149.75,171.57 L150.20,172.14 L150.65,172.70 L151.10,173.28 L151.54,173.84 L151.99,174.40 L152.44,174.95 L152.89,175.49 L153.34,176.02 L153.79,176.54 L154.23,177.05 L154.68,177.55 L155.13,178.04 L155.58,178.52 L156.03,178.99 L156.48,179.44 L156.92,179.89 L157.37,180.32 L157.82,180.74 L158.27,181.15 L158.72,181.55 L159.16,181.94 L159.61,182.31 L160.06,182.67 L160.51,183.01 L160.96,183.35 L161.41,183.67 L161.85,183.98 L162.30,184.27 L162.75,184.55 L163.20,184.82 L163.65,185.07 L164.10,185.31 L164.54,185.54 L164.99,185.75 L165.44,185.95 L165.89,186.14 L166.34,186.31 L166.79,186.47 L167.23,186.61 L167.68,186.75 L168.13,186.87 L168.58,186.96 L169.03,187.05 L169.48,187.14 L169.92,187.20 L170.37,187.24 L170.82,187.26 L171.27,187.28 L171.72,187.29 L172.17,187.29 L172.61,187.27 L173.06,187.23 L173.51,187.18 L173.96,187.12 L174.41,187.05 L174.85,186.95 L175.30,186.84 L175.75,186.72 L176.20,186.59 L176.65,186.44 L177.10,186.27 L177.54,186.10 L177.99,185.91 L178.44,185.70 L178.89,185.48 L179.34,185.24 L179.79,185.00 L180.23,184.73 L180.68,184.45 L181.13,184.16 L181.58,183.85 L182.03,183.53 L182.48,183.19 L182.92,182.84 L183.37,182.47 L183.82,182.09 L184.27,181.69 L184.72,181.28 L185.17,180.85 L185.61,180.41 L186.06,179.95 L186.51,179.47 L186.96,178.99 L187.41,178.48 L187.85,177.96 L188.30,177.43 L188.75,176.88 L189.20,176.31 L189.65,175.73 L190.10,175.14 L190.54,174.53 L190.99,173.90 L191.44,173.26 L191.89,172.61 L192.34,171.94 L192.79,171.25 L193.23,170.55 L193.68,169.84 L194.13,169.11 L194.58,168.37 L195.03,167.61 L195.48,166.84 L195.92,166.06 L196.37,165.26 L196.82,164.45 L197.27,163.62 L197.72,162.78 L198.17,161.93 L198.61,161.07 L199.06,160.20 L199.51,159.31 L199.96,158.41 L200.41,157.50 L200.86,156.58 L201.30,155.65 L201.75,154.70 L202.20,153.75 L202.65,152.79 L203.10,151.81 L203.54,150.83 L203.99,149.84 L204.44,148.84 L204.89,147.83 L205.34,146.82 L205.79,145.80 L206.23,144.77 L206.68,143.73 L207.13,142.69 L207.58,141.64 L208.03,140.58 L208.48,139.52 L208.92,138.46 L209.37,137.39 L209.82,136.32 L210.27,135.24 L210.72,134.16 L211.17,133.08 L211.61,131.99 L212.06,130.90 L212.51,129.81 L212.96,128.72 L213.41,127.63 L213.86,126.53 L214.30,125.44 L214.75,124.34 L215.20,123.25 L215.65,122.16 L216.10,121.06 L216.54,119.97 L216.99,118.87 L217.44,117.78 L217.89,116.69 L218.34,115.60 L218.79,114.51 L219.23,113.42 L219.68,112.34 L220.13,111.26 L220.58,110.18 L221.03,109.11 L221.48,108.04 L221.92,106.98 L222.37,105.92 L222.82,104.86 L223.27,103.81 L223.72,102.77 L224.17,101.73 L224.61,100.70 L225.06,99.68 L225.51,98.67 L225.96,97.66 L226.41,96.66 L226.86,95.67 L227.30,94.69 L227.75,93.71 L228.20,92.75 L228.65,91.80 L229.10,90.85 L229.55,89.92 L229.99,89.00 L230.44,88.09 L230.89,87.19 L231.34,86.30 L231.79,85.43 L232.23,84.57 L232.68,83.72 L233.13,82.88 L233.58,82.05 L234.03,81.24 L234.48,80.44 L234.92,79.66 L235.37,78.89 L235.82,78.13 L236.27,77.39 L236.72,76.66 L237.17,75.95 L237.61,75.25 L238.06,74.56 L238.51,73.89 L238.96,73.24 L239.41,72.60 L239.86,71.97 L240.30,71.36 L240.75,70.77 L241.20,70.19 L241.65,69.62 L242.10,69.07 L242.55,68.54 L242.99,68.02 L243.44,67.51 L243.89,67.03 L244.34,66.55 L244.79,66.09 L245.23,65.65 L245.68,65.22 L246.13,64.81 L246.58,64.41 L247.03,64.03 L247.48,63.66 L247.92,63.31 L248.37,62.97 L248.82,62.65 L249.27,62.34 L249.72,62.05 L250.17,61.77 L250.61,61.50 L251.06,61.26 L251.51,61.02 L251.96,60.80 L252.41,60.59 L252.86,60.40 L253.30,60.23 L253.75,60.06 L254.20,59.91 L254.65,59.78 L255.10,59.66 L255.55,59.55 L255.99,59.45 L256.44,59.38 L256.89,59.32 L257.34,59.27 L257.79,59.23 L258.24,59.21 L258.68,59.21 L259.13,59.22 L259.58,59.24 L260.03,59.26 L260.48,59.30 L260.92,59.36 L261.37,59.45 L261.82,59.54 L262.27,59.63 L262.72,59.75 L263.17,59.89 L263.61,60.03 L264.06,60.19 L264.51,60.36 L264.96,60.55 L265.41,60.75 L265.86,60.96 L266.30,61.19 L266.75,61.43 L267.20,61.68 L267.65,61.95 L268.10,62.23 L268.55,62.52 L268.99,62.83 L269.44,63.15 L269.89,63.49 L270.34,63.83 L270.79,64.19 L271.24,64.56 L271.68,64.95 L272.13,65.35 L272.58,65.76 L273.03,66.18 L273.48,66.61 L273.92,67.06 L274.37,67.51 L274.82,67.98 L275.27,68.46 L275.72,68.95 L276.17,69.45 L276.61,69.96 L277.06,70.48 L277.51,71.01 L277.96,71.55 L278.41,72.10 L278.86,72.66 L279.30,73.22 L279.75,73.80 L280.20,74.37 L280.65,74.94 L281.10,75.53 L281.55,76.17 L281.99,76.84 L282.44,77.53 L282.89,78.24 L283.34,78.97 L283.79,79.72 L284.24,80.48 L284.68,81.26 L285.13,82.05 L285.58,82.86 L286.03,83.67 L286.48,84.50 L286.93,85.33 L287.37,86.16 L287.82,87.00 L288.27,87.85 L288.72,88.69 L289.17,89.53 L289.61,90.38 L290.06,91.22 L290.51,92.05 L290.96,92.89 L291.41,93.78 L291.86,94.70 L292.30,95.62 L292.75,96.51 L293.20,97.33 L293.65,98.07 L294.10,98.72 L294.55,99.34 L294.99,99.93 L295.44,100.50 L295.89,101.04 L296.34,101.56 L296.79,102.06 L297.24,102.53 L297.68,102.99 L298.13,103.43 L298.58,103.85 L299.03,104.25 L299.48,104.65 L299.93,105.03 L300.37,105.40 L300.82,105.76 L301.27,106.10 L301.72,106.44 L302.17,106.77 L302.61,107.09 L303.06,107.40 L303.51,107.70 L303.96,107.99 L304.41,108.27 L304.86,108.54 L305.30,108.81 L305.75,109.07 L306.20,109.32 L306.65,109.56 L307.10,109.80 L307.55,110.04 L307.99,110.27 L308.44,110.49 L308.89,110.71 L309.34,110.92 L309.79,111.13 L310.24,111.33 L310.68,111.52 L311.13,111.71 L311.58,111.89 L312.03,112.06 L312.48,112.23 L312.93,112.39 L313.37,112.55 L313.82,112.70 L314.27,112.85 L314.72,112.99 L315.17,113.13 L315.62,113.27 L316.06,113.40 L316.51,113.53 L316.96,113.66 L317.41,113.78 L317.86,113.91 L318.30,114.03 L318.75,114.15 L319.20,114.27 L319.65,114.39 L320.10,114.51 L320.55,114.63 L320.99,114.74 L321.44,114.86 L321.89,114.98 L322.34,115.10 L322.79,115.22 L323.24,115.35 L323.68,115.47 L324.13,115.60 L324.58,115.73 L325.03,115.86 L325.48,115.99 L325.93,116.12 L326.37,116.25 L326.82,116.38 L327.27,116.51 L327.72,116.64 L328.17,116.77 L328.62,116.89 L329.06,117.02 L329.51,117.14 L329.96,117.26 L330.41,117.38 L330.86,117.50 L331.30,117.61 L331.75,117.72 L332.20,117.83 L332.65,117.94 L333.10,118.04 L333.55,118.13 L333.99,118.22 L334.44,118.31 L334.89,118.39 L335.34,118.47 L335.79,118.54 L336.24,118.61 L336.68,118.68 L337.13,118.76 L337.58,118.83 L338.03,118.90 L338.48,118.97 L338.93,119.04 L339.37,119.11 L339.82,119.18 L340.27,119.25 L340.72,119.32 L341.17,119.39 L341.62,119.46 L342.06,119.53 L342.51,119.59 L342.96,119.66 L343.41,119.72 L343.86,119.78 L344.31,119.85 L344.75,119.91 L345.20,119.97 L345.65,120.03 L346.10,120.09 L346.55,120.14 L346.99,120.20 L347.44,120.26 L347.89,120.31 L348.34,120.36 L348.79,120.41 L349.24,120.46 L349.68,120.51 L350.13,120.56 L350.58,120.60 L351.03,120.64 L351.48,120.68 L351.93,120.72 L352.37,120.76 L352.82,120.80 L353.27,120.83 L353.72,120.87 L354.17,120.90 L354.62,120.93 L355.06,120.95 L355.51,120.98 L355.96,121.00 L356.41,121.02 L356.86,121.04 L357.31,121.05 L357.75,121.07 L358.20,121.08 L358.65,121.09" stroke="#3db36e" class="cv"/>
<path d="M71.75,125.49 L72.20,125.51 L72.65,125.53 L73.09,125.56 L73.54,125.58 L73.99,125.61 L74.44,125.64 L74.89,125.67 L75.34,125.70 L75.78,125.74 L76.23,125.77 L76.68,125.81 L77.13,125.85 L77.58,125.89 L78.03,125.93 L78.47,125.97 L78.92,126.02 L79.37,126.06 L79.82,126.11 L80.27,126.16 L80.72,126.21 L81.16,126.26 L81.61,126.31 L82.06,126.36 L82.51,126.42 L82.96,126.47 L83.41,126.53 L83.85,126.59 L84.30,126.65 L84.75,126.71 L85.20,126.77 L85.65,126.83 L86.09,126.89 L86.54,126.96 L86.99,127.02 L87.44,127.09 L87.89,127.15 L88.34,127.22 L88.78,127.29 L89.23,127.36 L89.68,127.43 L90.13,127.50 L90.58,127.57 L91.03,127.64 L91.47,127.71 L91.92,127.79 L92.37,127.86 L92.82,127.94 L93.27,128.01 L93.72,128.09 L94.16,128.16 L94.61,128.24 L95.06,128.32 L95.51,128.39 L95.96,128.47 L96.41,128.55 L96.85,128.63 L97.30,128.71 L97.75,128.79 L98.20,128.87 L98.65,128.95 L99.10,129.03 L99.54,129.11 L99.99,129.19 L100.44,129.28 L100.89,129.36 L101.34,129.45 L101.78,129.55 L102.23,129.64 L102.68,129.74 L103.13,129.83 L103.58,129.94 L104.03,130.04 L104.47,130.14 L104.92,130.25 L105.37,130.36 L105.82,130.47 L106.27,130.59 L106.72,130.70 L107.16,130.82 L107.61,130.94 L108.06,131.06 L108.51,131.19 L108.96,131.31 L109.41,131.44 L109.85,131.57 L110.30,131.70 L110.75,131.84 L111.20,131.97 L111.65,132.11 L112.10,132.25 L112.54,132.39 L112.99,132.53 L113.44,132.68 L113.89,132.82 L114.34,132.97 L114.78,133.12 L115.23,133.27 L115.68,133.43 L116.13,133.59 L116.58,133.76 L117.03,133.93 L117.47,134.11 L117.92,134.29 L118.37,134.47 L118.82,134.66 L119.27,134.86 L119.72,135.06 L120.16,135.27 L120.61,135.48 L121.06,135.69 L121.51,135.91 L121.96,136.14 L122.41,136.36 L122.85,136.60 L123.30,136.84 L123.75,137.08 L124.20,137.33 L124.65,137.58 L125.10,137.84 L125.54,138.10 L125.99,138.37 L126.44,138.65 L126.89,138.94 L127.34,139.23 L127.79,139.54 L128.23,139.85 L128.68,140.17 L129.13,140.50 L129.58,140.84 L130.03,141.20 L130.47,141.56 L130.92,141.94 L131.37,142.33 L131.82,142.74 L132.27,143.16 L132.72,143.64 L133.16,144.15 L133.61,144.71 L134.06,145.29 L134.51,145.89 L134.96,146.51 L135.41,147.14 L135.85,147.77 L136.30,148.40 L136.75,149.01 L137.20,149.61 L137.65,150.20 L138.10,150.79 L138.54,151.39 L138.99,151.99 L139.44,152.60 L139.89,153.23 L140.34,153.86 L140.79,154.51 L141.23,155.19 L141.68,155.88 L142.13,156.58 L142.58,157.30 L143.03,158.03 L143.48,158.76 L143.92,159.50 L144.37,160.23 L144.82,160.96 L145.27,161.69 L145.72,162.40 L146.16,163.10 L146.61,163.79 L147.06,164.46 L147.51,165.11 L147.96,165.73 L148.41,166.32 L148.85,166.89 L149.30,167.41 L149.75,167.90 L150.20,168.37 L150.65,168.83 L151.10,169.30 L151.54,169.76 L151.99,170.21 L152.44,170.65 L152.89,171.08 L153.34,171.51 L153.79,171.92 L154.23,172.32 L154.68,172.72 L155.13,173.10 L155.58,173.48 L156.03,173.84 L156.48,174.19 L156.92,174.53 L157.37,174.86 L157.82,175.18 L158.27,175.48 L158.72,175.78 L159.16,176.06 L159.61,176.33 L160.06,176.59 L160.51,176.84 L160.96,177.08 L161.41,177.31 L161.85,177.52 L162.30,177.72 L162.75,177.92 L163.20,178.10 L163.65,178.26 L164.10,178.42 L164.54,178.57 L164.99,178.71 L165.44,178.83 L165.89,178.94 L166.34,179.05 L166.79,179.14 L167.23,179.22 L167.68,179.29 L168.13,179.36 L168.58,179.40 L169.03,179.44 L169.48,179.47 L169.92,179.49 L170.37,179.50 L170.82,179.50 L171.27,179.48 L171.72,179.47 L172.17,179.44 L172.61,179.41 L173.06,179.36 L173.51,179.29 L173.96,179.22 L174.41,179.14 L174.85,179.05 L175.30,178.95 L175.75,178.84 L176.20,178.72 L176.65,178.59 L177.10,178.45 L177.54,178.30 L177.99,178.14 L178.44,177.96 L178.89,177.78 L179.34,177.58 L179.79,177.38 L180.23,177.16 L180.68,176.93 L181.13,176.69 L181.58,176.44 L182.03,176.17 L182.48,175.90 L182.92,175.61 L183.37,175.31 L183.82,174.99 L184.27,174.67 L184.72,174.33 L185.17,173.98 L185.61,173.61 L186.06,173.23 L186.51,172.84 L186.96,172.43 L187.41,172.01 L187.85,171.58 L188.30,171.13 L188.75,170.67 L189.20,170.20 L189.65,169.71 L190.10,169.21 L190.54,168.69 L190.99,168.16 L191.44,167.61 L191.89,167.06 L192.34,166.48 L192.79,165.89 L193.23,165.29 L193.68,164.68 L194.13,164.05 L194.58,163.40 L195.03,162.75 L195.48,162.08 L195.92,161.39 L196.37,160.69 L196.82,159.98 L197.27,159.26 L197.72,158.53 L198.17,157.78 L198.61,157.02 L199.06,156.24 L199.51,155.46 L199.96,154.66 L200.41,153.86 L200.86,153.04 L201.30,152.21 L201.75,151.37 L202.20,150.52 L202.65,149.67 L203.10,148.80 L203.54,147.92 L203.99,147.04 L204.44,146.15 L204.89,145.25 L205.34,144.34 L205.79,143.42 L206.23,142.50 L206.68,141.58 L207.13,140.64 L207.58,139.70 L208.03,138.76 L208.48,137.81 L208.92,136.86 L209.37,135.90 L209.82,134.94 L210.27,133.98 L210.72,133.01 L211.17,132.04 L211.61,131.07 L212.06,130.09 L212.51,129.12 L212.96,128.14 L213.41,127.16 L213.86,126.19 L214.30,125.21 L214.75,124.23 L215.20,123.25 L215.65,122.27 L216.10,121.29 L216.54,120.31 L216.99,119.34 L217.44,118.36 L217.89,117.38 L218.34,116.41 L218.79,115.43 L219.23,114.46 L219.68,113.49 L220.13,112.52 L220.58,111.56 L221.03,110.60 L221.48,109.64 L221.92,108.69 L222.37,107.74 L222.82,106.80 L223.27,105.86 L223.72,104.92 L224.17,104.00 L224.61,103.08 L225.06,102.16 L225.51,101.25 L225.96,100.35 L226.41,99.46 L226.86,98.58 L227.30,97.70 L227.75,96.83 L228.20,95.98 L228.65,95.13 L229.10,94.29 L229.55,93.46 L229.99,92.64 L230.44,91.84 L230.89,91.04 L231.34,90.26 L231.79,89.48 L232.23,88.72 L232.68,87.97 L233.13,87.24 L233.58,86.52 L234.03,85.81 L234.48,85.11 L234.92,84.42 L235.37,83.75 L235.82,83.10 L236.27,82.45 L236.72,81.82 L237.17,81.21 L237.61,80.61 L238.06,80.02 L238.51,79.44 L238.96,78.89 L239.41,78.34 L239.86,77.81 L240.30,77.29 L240.75,76.79 L241.20,76.30 L241.65,75.83 L242.10,75.37 L242.55,74.92 L242.99,74.49 L243.44,74.07 L243.89,73.66 L244.34,73.27 L244.79,72.89 L245.23,72.52 L245.68,72.17 L246.13,71.83 L246.58,71.51 L247.03,71.19 L247.48,70.89 L247.92,70.60 L248.37,70.33 L248.82,70.06 L249.27,69.81 L249.72,69.57 L250.17,69.34 L250.61,69.12 L251.06,68.92 L251.51,68.72 L251.96,68.54 L252.41,68.36 L252.86,68.20 L253.30,68.05 L253.75,67.91 L254.20,67.78 L254.65,67.66 L255.10,67.55 L255.55,67.45 L255.99,67.36 L256.44,67.28 L256.89,67.21 L257.34,67.14 L257.79,67.09 L258.24,67.06 L258.68,67.03 L259.13,67.02 L259.58,67.00 L260.03,67.00 L260.48,67.01 L260.92,67.03 L261.37,67.06 L261.82,67.10 L262.27,67.14 L262.72,67.21 L263.17,67.28 L263.61,67.36 L264.06,67.45 L264.51,67.56 L264.96,67.67 L265.41,67.79 L265.86,67.93 L266.30,68.08 L266.75,68.24 L267.20,68.40 L267.65,68.58 L268.10,68.78 L268.55,68.98 L268.99,69.19 L269.44,69.42 L269.89,69.66 L270.34,69.91 L270.79,70.17 L271.24,70.44 L271.68,70.72 L272.13,71.02 L272.58,71.32 L273.03,71.64 L273.48,71.97 L273.92,72.31 L274.37,72.66 L274.82,73.02 L275.27,73.40 L275.72,73.78 L276.17,74.18 L276.61,74.58 L277.06,74.99 L277.51,75.42 L277.96,75.85 L278.41,76.29 L278.86,76.74 L279.30,77.20 L279.75,77.67 L280.20,78.14 L280.65,78.61 L281.10,79.10 L281.55,79.61 L281.99,80.15 L282.44,80.70 L282.89,81.26 L283.34,81.83 L283.79,82.42 L284.24,83.01 L284.68,83.61 L285.13,84.22 L285.58,84.84 L286.03,85.47 L286.48,86.11 L286.93,86.75 L287.37,87.40 L287.82,88.06 L288.27,88.72 L288.72,89.39 L289.17,90.06 L289.61,90.74 L290.06,91.42 L290.51,92.11 L290.96,92.81 L291.41,93.56 L291.86,94.33 L292.30,95.12 L292.75,95.89 L293.20,96.62 L293.65,97.29 L294.10,97.90 L294.55,98.49 L294.99,99.06 L295.44,99.61 L295.89,100.14 L296.34,100.66 L296.79,101.16 L297.24,101.64 L297.68,102.10 L298.13,102.54 L298.58,102.97 L299.03,103.37 L299.48,103.77 L299.93,104.15 L300.37,104.52 L300.82,104.88 L301.27,105.23 L301.72,105.57 L302.17,105.90 L302.61,106.23 L303.06,106.54 L303.51,106.85 L303.96,107.14 L304.41,107.43 L304.86,107.71 L305.30,107.98 L305.75,108.25 L306.20,108.51 L306.65,108.76 L307.10,109.01 L307.55,109.26 L307.99,109.50 L308.44,109.73 L308.89,109.96 L309.34,110.18 L309.79,110.40 L310.24,110.61 L310.68,110.81 L311.13,111.01 L311.58,111.19 L312.03,111.38 L312.48,111.55 L312.93,111.71 L313.37,111.88 L313.82,112.03 L314.27,112.18 L314.72,112.33 L315.17,112.47 L315.62,112.61 L316.06,112.74 L316.51,112.87 L316.96,113.00 L317.41,113.13 L317.86,113.25 L318.30,113.38 L318.75,113.50 L319.20,113.62 L319.65,113.74 L320.10,113.86 L320.55,113.98 L320.99,114.11 L321.44,114.23 L321.89,114.35 L322.34,114.48 L322.79,114.61 L323.24,114.74 L323.68,114.87 L324.13,115.01 L324.58,115.15 L325.03,115.29 L325.48,115.43 L325.93,115.57 L326.37,115.71 L326.82,115.85 L327.27,116.00 L327.72,116.14 L328.17,116.28 L328.62,116.42 L329.06,116.56 L329.51,116.69 L329.96,116.83 L330.41,116.96 L330.86,117.09 L331.30,117.22 L331.75,117.34 L332.20,117.46 L332.65,117.57 L333.10,117.68 L333.55,117.79 L333.99,117.89 L334.44,117.98 L334.89,118.07 L335.34,118.16 L335.79,118.24 L336.24,118.32 L336.68,118.40 L337.13,118.47 L337.58,118.55 L338.03,118.63 L338.48,118.71 L338.93,118.79 L339.37,118.86 L339.82,118.94 L340.27,119.02 L340.72,119.09 L341.17,119.17 L341.62,119.24 L342.06,119.31 L342.51,119.39 L342.96,119.46 L343.41,119.53 L343.86,119.60 L344.31,119.66 L344.75,119.73 L345.20,119.80 L345.65,119.86 L346.10,119.93 L346.55,119.99 L346.99,120.05 L347.44,120.11 L347.89,120.17 L348.34,120.22 L348.79,120.28 L349.24,120.33 L349.68,120.39 L350.13,120.44 L350.58,120.48 L351.03,120.53 L351.48,120.58 L351.93,120.62 L352.37,120.66 L352.82,120.70 L353.27,120.74 L353.72,120.77 L354.17,120.81 L354.62,120.84 L355.06,120.87 L355.51,120.89 L355.96,120.92 L356.41,120.94 L356.86,120.96 L357.31,120.98 L357.75,120.99 L358.20,121.00 L358.65,121.01" stroke="#5b52a3" class="cv"/>
<path d="M71.75,125.56 L72.20,125.59 L72.65,125.61 L73.09,125.64 L73.54,125.66 L73.99,125.69 L74.44,125.73 L74.89,125.76 L75.34,125.79 L75.78,125.83 L76.23,125.87 L76.68,125.91 L77.13,125.95 L77.58,125.99 L78.03,126.04 L78.47,126.08 L78.92,126.13 L79.37,126.18 L79.82,126.23 L80.27,126.28 L80.72,126.33 L81.16,126.39 L81.61,126.44 L82.06,126.50 L82.51,126.56 L82.96,126.62 L83.41,126.68 L83.85,126.74 L84.30,126.81 L84.75,126.87 L85.20,126.94 L85.65,127.00 L86.09,127.07 L86.54,127.14 L86.99,127.21 L87.44,127.28 L87.89,127.35 L88.34,127.42 L88.78,127.50 L89.23,127.57 L89.68,127.65 L90.13,127.72 L90.58,127.80 L91.03,127.88 L91.47,127.96 L91.92,128.03 L92.37,128.11 L92.82,128.19 L93.27,128.28 L93.72,128.36 L94.16,128.44 L94.61,128.52 L95.06,128.60 L95.51,128.69 L95.96,128.77 L96.41,128.86 L96.85,128.94 L97.30,129.03 L97.75,129.11 L98.20,129.20 L98.65,129.28 L99.10,129.37 L99.54,129.46 L99.99,129.55 L100.44,129.64 L100.89,129.73 L101.34,129.83 L101.78,129.93 L102.23,130.03 L102.68,130.14 L103.13,130.25 L103.58,130.36 L104.03,130.47 L104.47,130.59 L104.92,130.70 L105.37,130.82 L105.82,130.95 L106.27,131.07 L106.72,131.20 L107.16,131.32 L107.61,131.46 L108.06,131.59 L108.51,131.72 L108.96,131.86 L109.41,132.00 L109.85,132.14 L110.30,132.28 L110.75,132.43 L111.20,132.57 L111.65,132.72 L112.10,132.87 L112.54,133.02 L112.99,133.17 L113.44,133.33 L113.89,133.48 L114.34,133.64 L114.78,133.80 L115.23,133.96 L115.68,134.12 L116.13,134.29 L116.58,134.46 L117.03,134.64 L117.47,134.82 L117.92,135.01 L118.37,135.20 L118.82,135.39 L119.27,135.59 L119.72,135.79 L120.16,136.00 L120.61,136.22 L121.06,136.43 L121.51,136.66 L121.96,136.88 L122.41,137.11 L122.85,137.35 L123.30,137.59 L123.75,137.84 L124.20,138.09 L124.65,138.34 L125.10,138.61 L125.54,138.87 L125.99,139.14 L126.44,139.42 L126.89,139.71 L127.34,140.01 L127.79,140.31 L128.23,140.62 L128.68,140.94 L129.13,141.27 L129.58,141.62 L130.03,141.97 L130.47,142.33 L130.92,142.71 L131.37,143.10 L131.82,143.50 L132.27,143.92 L132.72,144.39 L133.16,144.90 L133.61,145.45 L134.06,146.03 L134.51,146.62 L134.96,147.23 L135.41,147.84 L135.85,148.45 L136.30,149.05 L136.75,149.62 L137.20,150.17 L137.65,150.71 L138.10,151.24 L138.54,151.78 L138.99,152.30 L139.44,152.82 L139.89,153.33 L140.34,153.83 L140.79,154.32 L141.23,154.81 L141.68,155.29 L142.13,155.77 L142.58,156.25 L143.03,156.72 L143.48,157.19 L143.92,157.65 L144.37,158.11 L144.82,158.57 L145.27,159.02 L145.72,159.47 L146.16,159.92 L146.61,160.36 L147.06,160.79 L147.51,161.23 L147.96,161.66 L148.41,162.08 L148.85,162.51 L149.30,162.92 L149.75,163.32 L150.20,163.71 L150.65,164.10 L151.10,164.49 L151.54,164.87 L151.99,165.25 L152.44,165.61 L152.89,165.97 L153.34,166.33 L153.79,166.68 L154.23,167.02 L154.68,167.35 L155.13,167.67 L155.58,167.98 L156.03,168.29 L156.48,168.59 L156.92,168.87 L157.37,169.15 L157.82,169.42 L158.27,169.68 L158.72,169.92 L159.16,170.16 L159.61,170.39 L160.06,170.61 L160.51,170.81 L160.96,171.01 L161.41,171.19 L161.85,171.36 L162.30,171.53 L162.75,171.68 L163.20,171.82 L163.65,171.95 L164.10,172.07 L164.54,172.18 L164.99,172.27 L165.44,172.35 L165.89,172.43 L166.34,172.49 L166.79,172.54 L167.23,172.58 L167.68,172.61 L168.13,172.63 L168.58,172.64 L169.03,172.63 L169.48,172.61 L169.92,172.59 L170.37,172.56 L170.82,172.52 L171.27,172.46 L171.72,172.39 L172.17,172.32 L172.61,172.23 L173.06,172.14 L173.51,172.03 L173.96,171.91 L174.41,171.79 L174.85,171.65 L175.30,171.50 L175.75,171.35 L176.20,171.18 L176.65,171.01 L177.10,170.82 L177.54,170.63 L177.99,170.43 L178.44,170.21 L178.89,169.99 L179.34,169.76 L179.79,169.51 L180.23,169.26 L180.68,169.00 L181.13,168.73 L181.58,168.45 L182.03,168.16 L182.48,167.86 L182.92,167.55 L183.37,167.24 L183.82,166.91 L184.27,166.57 L184.72,166.22 L185.17,165.87 L185.61,165.50 L186.06,165.13 L186.51,164.74 L186.96,164.35 L187.41,163.94 L187.85,163.53 L188.30,163.10 L188.75,162.67 L189.20,162.23 L189.65,161.77 L190.10,161.31 L190.54,160.84 L190.99,160.36 L191.44,159.87 L191.89,159.37 L192.34,158.86 L192.79,158.34 L193.23,157.81 L193.68,157.27 L194.13,156.72 L194.58,156.17 L195.03,155.60 L195.48,155.03 L195.92,154.44 L196.37,153.85 L196.82,153.25 L197.27,152.64 L197.72,152.02 L198.17,151.40 L198.61,150.76 L199.06,150.12 L199.51,149.47 L199.96,148.81 L200.41,148.14 L200.86,147.47 L201.30,146.79 L201.75,146.10 L202.20,145.41 L202.65,144.71 L203.10,144.00 L203.54,143.28 L203.99,142.56 L204.44,141.84 L204.89,141.10 L205.34,140.37 L205.79,139.62 L206.23,138.88 L206.68,138.12 L207.13,137.37 L207.58,136.61 L208.03,135.84 L208.48,135.07 L208.92,134.30 L209.37,133.52 L209.82,132.74 L210.27,131.96 L210.72,131.18 L211.17,130.39 L211.61,129.60 L212.06,128.81 L212.51,128.02 L212.96,127.23 L213.41,126.43 L213.86,125.64 L214.30,124.84 L214.75,124.05 L215.20,123.25 L215.65,122.45 L216.10,121.66 L216.54,120.86 L216.99,120.07 L217.44,119.27 L217.89,118.48 L218.34,117.69 L218.79,116.90 L219.23,116.11 L219.68,115.32 L220.13,114.54 L220.58,113.76 L221.03,112.98 L221.48,112.20 L221.92,111.43 L222.37,110.66 L222.82,109.89 L223.27,109.13 L223.72,108.38 L224.17,107.62 L224.61,106.88 L225.06,106.13 L225.51,105.40 L225.96,104.66 L226.41,103.94 L226.86,103.22 L227.30,102.50 L227.75,101.79 L228.20,101.09 L228.65,100.40 L229.10,99.71 L229.55,99.03 L229.99,98.36 L230.44,97.69 L230.89,97.03 L231.34,96.38 L231.79,95.74 L232.23,95.10 L232.68,94.48 L233.13,93.86 L233.58,93.25 L234.03,92.65 L234.48,92.06 L234.92,91.47 L235.37,90.90 L235.82,90.33 L236.27,89.78 L236.72,89.23 L237.17,88.69 L237.61,88.16 L238.06,87.64 L238.51,87.13 L238.96,86.63 L239.41,86.14 L239.86,85.66 L240.30,85.19 L240.75,84.73 L241.20,84.27 L241.65,83.83 L242.10,83.40 L242.55,82.97 L242.99,82.56 L243.44,82.15 L243.89,81.76 L244.34,81.37 L244.79,81.00 L245.23,80.63 L245.68,80.28 L246.13,79.93 L246.58,79.59 L247.03,79.26 L247.48,78.95 L247.92,78.64 L248.37,78.34 L248.82,78.05 L249.27,77.77 L249.72,77.50 L250.17,77.24 L250.61,76.99 L251.06,76.74 L251.51,76.51 L251.96,76.29 L252.41,76.07 L252.86,75.87 L253.30,75.68 L253.75,75.49 L254.20,75.32 L254.65,75.15 L255.10,75.00 L255.55,74.85 L255.99,74.71 L256.44,74.59 L256.89,74.47 L257.34,74.36 L257.79,74.27 L258.24,74.18 L258.68,74.11 L259.13,74.04 L259.58,73.98 L260.03,73.94 L260.48,73.91 L260.92,73.89 L261.37,73.87 L261.82,73.86 L262.27,73.87 L262.72,73.89 L263.17,73.92 L263.61,73.96 L264.06,74.01 L264.51,74.07 L264.96,74.15 L265.41,74.23 L265.86,74.32 L266.30,74.43 L266.75,74.55 L267.20,74.68 L267.65,74.82 L268.10,74.97 L268.55,75.14 L268.99,75.31 L269.44,75.49 L269.89,75.69 L270.34,75.89 L270.79,76.11 L271.24,76.34 L271.68,76.58 L272.13,76.82 L272.58,77.08 L273.03,77.35 L273.48,77.63 L273.92,77.91 L274.37,78.21 L274.82,78.52 L275.27,78.83 L275.72,79.15 L276.17,79.48 L276.61,79.82 L277.06,80.17 L277.51,80.53 L277.96,80.89 L278.41,81.25 L278.86,81.63 L279.30,82.01 L279.75,82.40 L280.20,82.79 L280.65,83.19 L281.10,83.59 L281.55,83.99 L281.99,84.39 L282.44,84.79 L282.89,85.17 L283.34,85.56 L283.79,85.93 L284.24,86.31 L284.68,86.69 L285.13,87.07 L285.58,87.45 L286.03,87.83 L286.48,88.22 L286.93,88.62 L287.37,89.02 L287.82,89.43 L288.27,89.86 L288.72,90.29 L289.17,90.74 L289.61,91.20 L290.06,91.68 L290.51,92.18 L290.96,92.71 L291.41,93.30 L291.86,93.94 L292.30,94.60 L292.75,95.27 L293.20,95.91 L293.65,96.51 L294.10,97.07 L294.55,97.63 L294.99,98.17 L295.44,98.71 L295.89,99.24 L296.34,99.75 L296.79,100.25 L297.24,100.74 L297.68,101.21 L298.13,101.66 L298.58,102.09 L299.03,102.49 L299.48,102.89 L299.93,103.27 L300.37,103.64 L300.82,104.01 L301.27,104.36 L301.72,104.70 L302.17,105.04 L302.61,105.37 L303.06,105.68 L303.51,105.99 L303.96,106.30 L304.41,106.59 L304.86,106.88 L305.30,107.16 L305.75,107.43 L306.20,107.70 L306.65,107.96 L307.10,108.22 L307.55,108.48 L307.99,108.73 L308.44,108.97 L308.89,109.21 L309.34,109.44 L309.79,109.67 L310.24,109.89 L310.68,110.10 L311.13,110.31 L311.58,110.50 L312.03,110.69 L312.48,110.87 L312.93,111.04 L313.37,111.20 L313.82,111.36 L314.27,111.52 L314.72,111.66 L315.17,111.81 L315.62,111.95 L316.06,112.08 L316.51,112.22 L316.96,112.35 L317.41,112.47 L317.86,112.60 L318.30,112.73 L318.75,112.85 L319.20,112.97 L319.65,113.09 L320.10,113.22 L320.55,113.34 L320.99,113.47 L321.44,113.59 L321.89,113.72 L322.34,113.86 L322.79,113.99 L323.24,114.13 L323.68,114.27 L324.13,114.42 L324.58,114.56 L325.03,114.71 L325.48,114.86 L325.93,115.02 L326.37,115.17 L326.82,115.33 L327.27,115.48 L327.72,115.64 L328.17,115.79 L328.62,115.94 L329.06,116.09 L329.51,116.24 L329.96,116.39 L330.41,116.54 L330.86,116.68 L331.30,116.82 L331.75,116.95 L332.20,117.08 L332.65,117.21 L333.10,117.33 L333.55,117.45 L333.99,117.56 L334.44,117.66 L334.89,117.76 L335.34,117.85 L335.79,117.93 L336.24,118.02 L336.68,118.11 L337.13,118.19 L337.58,118.28 L338.03,118.36 L338.48,118.45 L338.93,118.53 L339.37,118.61 L339.82,118.70 L340.27,118.78 L340.72,118.86 L341.17,118.94 L341.62,119.02 L342.06,119.10 L342.51,119.18 L342.96,119.26 L343.41,119.33 L343.86,119.41 L344.31,119.48 L344.75,119.55 L345.20,119.63 L345.65,119.70 L346.10,119.77 L346.55,119.83 L346.99,119.90 L347.44,119.96 L347.89,120.03 L348.34,120.09 L348.79,120.15 L349.24,120.21 L349.68,120.26 L350.13,120.32 L350.58,120.37 L351.03,120.42 L351.48,120.47 L351.93,120.52 L352.37,120.56 L352.82,120.60 L353.27,120.64 L353.72,120.68 L354.17,120.72 L354.62,120.75 L355.06,120.78 L355.51,120.81 L355.96,120.83 L356.41,120.86 L356.86,120.88 L357.31,120.90 L357.75,120.91 L358.20,120.93 L358.65,120.94" stroke="#828282" class="cv"/>
<rect x="71.45" y="7.5" width="286.90" height="231.50" class="fr"/>
<path d="M71.75,239.0v4.5 M107.61,239.0v4.5 M143.48,239.0v4.5 M179.34,239.0v4.5 M215.20,239.0v4.5 M251.06,239.0v4.5 M286.93,239.0v4.5 M322.79,239.0v4.5 M358.65,239.0v4.5 M89.68,239.0v2.5 M89.68,7.5v2.5 M125.54,239.0v2.5 M125.54,7.5v2.5 M161.41,239.0v2.5 M161.41,7.5v2.5 M197.27,239.0v2.5 M197.27,7.5v2.5 M233.13,239.0v2.5 M233.13,7.5v2.5 M268.99,239.0v2.5 M268.99,7.5v2.5 M304.86,239.0v2.5 M304.86,7.5v2.5 M340.72,239.0v2.5 M340.72,7.5v2.5 M107.61,7.5v2.5 M143.48,7.5v2.5 M179.34,7.5v2.5 M215.20,7.5v2.5 M251.06,7.5v2.5 M286.93,7.5v2.5 M322.79,7.5v2.5 M71.45,7.50h-4.5 M71.45,46.08h-4.5 M71.45,84.67h-4.5 M71.45,123.25h-4.5 M71.45,161.83h-4.5 M71.45,200.42h-4.5 M71.45,239.00h-4.5 M71.45,26.79h-2.5 M358.35,26.79h-2.5 M71.45,65.38h-2.5 M358.35,65.38h-2.5 M71.45,103.96h-2.5 M358.35,103.96h-2.5 M71.45,142.54h-2.5 M358.35,142.54h-2.5 M71.45,181.12h-2.5 M358.35,181.12h-2.5 M71.45,219.71h-2.5 M358.35,219.71h-2.5 M358.35,46.08h-2.5 M358.35,84.67h-2.5 M358.35,123.25h-2.5 M358.35,161.83h-2.5 M358.35,200.42h-2.5" class="tk"/>
<text x="72.15" y="253.6" class="tl" text-anchor="middle">-800</text>
<text x="108.01" y="253.6" class="tl" text-anchor="middle">-600</text>
<text x="143.88" y="253.6" class="tl" text-anchor="middle">-400</text>
<text x="179.74" y="253.6" class="tl" text-anchor="middle">-200</text>
<text x="215.60" y="253.6" class="tl" text-anchor="middle">0</text>
<text x="251.46" y="253.6" class="tl" text-anchor="middle">200</text>
<text x="287.32" y="253.6" class="tl" text-anchor="middle">400</text>
<text x="323.19" y="253.6" class="tl" text-anchor="middle">600</text>
<text x="359.05" y="253.6" class="tl" text-anchor="middle">800</text>
<text x="64.2" y="10.90" class="tl" text-anchor="end">0.3</text>
<text x="64.2" y="49.48" class="tl" text-anchor="end">0.2</text>
<text x="64.2" y="88.07" class="tl" text-anchor="end">0.1</text>
<text x="64.2" y="126.65" class="tl" text-anchor="end">0.0</text>
<text x="64.2" y="165.23" class="tl" text-anchor="end">-0.1</text>
<text x="64.2" y="203.82" class="tl" text-anchor="end">-0.2</text>
<text x="64.2" y="242.40" class="tl" text-anchor="end">-0.3</text>
<text transform="translate(20.8,125.1) rotate(-90)" class="ti" text-anchor="middle" style="font-size:11.8px">Magnetic induction intensity</text>
<text transform="translate(35.9,124) rotate(-90)" class="ti" text-anchor="middle">along Y axis / mT</text>
<text x="215.2" y="273" class="ti" text-anchor="middle">Y / um</text>
<text x="214.8" y="288.2" class="cap" text-anchor="middle">(a)</text>
<rect x="78.4" y="13.4" width="82" height="72.8" class="lg"/>
<line x1="80.2" y1="20.00" x2="102" y2="20.00" stroke="#ef8a93" stroke-width="1.7"/>
<text x="104.7" y="23.40" class="lt">Gap=60um</text>
<line x1="80.2" y1="31.90" x2="102" y2="31.90" stroke="#8aa7cf" stroke-width="1.7"/>
<text x="104.7" y="35.30" class="lt">Gap=80um</text>
<line x1="80.2" y1="43.80" x2="102" y2="43.80" stroke="#f7c655" stroke-width="1.3"/>
<text x="104.7" y="47.20" class="lt">Gap=100um</text>
<line x1="80.2" y1="55.70" x2="102" y2="55.70" stroke="#6dc793" stroke-width="1.3"/>
<text x="104.7" y="59.10" class="lt">Gap=120um</text>
<line x1="80.2" y1="67.60" x2="102" y2="67.60" stroke="#8f89c5" stroke-width="1.3"/>
<text x="104.7" y="71.00" class="lt">Gap=140um</text>
<line x1="80.2" y1="79.50" x2="102" y2="79.50" stroke="#959595" stroke-width="1.2"/>
<text x="104.7" y="82.90" class="lt">Gap=160um</text>
<rect x="225.2" y="19.4" width="59" height="16.1" class="bb"/>
<rect x="145.3" y="210.2" width="59.3" height="15.9" class="bb"/>
<rect x="286.7" y="83.6" width="8.2" height="17.3" fill="#f29a88" fill-opacity="0.5"/>
<line x1="291.4" y1="100.9" x2="291.4" y2="123.5" stroke="#e0302a" stroke-width="1.1"/>
<path d="M289.2,123.0 L293.6,123.0 L291.4,128.2 Z" fill="#e0302a"/>
<rect x="220.5" y="129.4" width="133.6" height="104.5" fill="#fff" class="ob"/>
<path d="M234.00,142.83 L269.99,155.77 L282.30,160.26 L284.02,163.29 L291.50,165.54 L316.23,173.98 L349.00,186.79" stroke="#e4222c" class="ci"/>
<path d="M234.00,149.96 L349.00,183.49" stroke="#336ba8" class="ci"/>
<path d="M234.00,162.90 L349.00,187.71" stroke="#f7b520" class="ci"/>
<path d="M234.00,175.57 L349.00,193.92" stroke="#3db36e" class="ci"/>
<path d="M234.00,187.98 L349.00,202.10" stroke="#5b52a3" class="ci"/>
<path d="M234.00,198.80 L349.00,210.81" stroke="#828282" class="ci"/>
<rect x="234.0" y="132.8" width="115.0" height="92.40" class="fi"/>
<path d="M248.38,132.8v1.8 M248.38,225.2v1.8 M262.75,132.8v1.8 M262.75,225.2v1.8 M277.12,132.8v1.8 M277.12,225.2v1.8 M291.50,132.8v1.8 M291.50,225.2v1.8 M305.88,132.8v1.8 M305.88,225.2v1.8 M320.25,132.8v1.8 M320.25,225.2v1.8 M334.62,132.8v1.8 M334.62,225.2v1.8 M234.0,146.00h-1.8 M349.0,146.00h-1.8 M234.0,159.20h-1.8 M349.0,159.20h-1.8 M234.0,172.40h-1.8 M349.0,172.40h-1.8 M234.0,185.60h-1.8 M349.0,185.60h-1.8 M234.0,198.80h-1.8 M349.0,198.80h-1.8 M234.0,212.00h-1.8 M349.0,212.00h-1.8" class="tki"/>
<text x="234.00" y="233.2" class="il" text-anchor="middle">390</text>
<text x="262.75" y="233.2" class="il" text-anchor="middle">395</text>
<text x="291.50" y="233.2" class="il" text-anchor="middle">400</text>
<text x="320.25" y="233.2" class="il" text-anchor="middle">405</text>
<text x="349.00" y="233.2" class="il" text-anchor="middle">410</text>
<text x="231.6" y="135.00" class="il" text-anchor="end">0.14</text>
<text x="231.6" y="161.40" class="il" text-anchor="end">0.12</text>
<text x="231.6" y="187.80" class="il" text-anchor="end">0.10</text>
<text x="231.6" y="214.20" class="il" text-anchor="end">0.08</text>
<line x1="485.18" y1="7.0" x2="485.18" y2="238.5" class="gb"/>
<line x1="521.05" y1="7.0" x2="521.05" y2="238.5" class="gb"/>
<line x1="556.92" y1="7.0" x2="556.92" y2="238.5" class="gb"/>
<line x1="592.80" y1="7.0" x2="592.80" y2="238.5" class="gb"/>
<line x1="628.67" y1="7.0" x2="628.67" y2="238.5" class="gb"/>
<line x1="664.55" y1="7.0" x2="664.55" y2="238.5" class="gb"/>
<line x1="700.42" y1="7.0" x2="700.42" y2="238.5" class="gb"/>
<line x1="449.3" y1="32.72" x2="736.3" y2="32.72" class="gb"/>
<line x1="449.3" y1="58.44" x2="736.3" y2="58.44" class="gb"/>
<line x1="449.3" y1="84.17" x2="736.3" y2="84.17" class="gb"/>
<line x1="449.3" y1="109.89" x2="736.3" y2="109.89" class="gb"/>
<line x1="449.3" y1="135.61" x2="736.3" y2="135.61" class="gb"/>
<line x1="449.3" y1="161.33" x2="736.3" y2="161.33" class="gb"/>
<line x1="449.3" y1="187.06" x2="736.3" y2="187.06" class="gb"/>
<line x1="449.3" y1="212.78" x2="736.3" y2="212.78" class="gb"/>
<path d="M449.30,156.77 L449.87,158.60 L450.45,160.49 L451.02,162.44 L451.60,164.43 L452.17,166.46 L452.74,168.52 L453.32,170.59 L453.89,172.68 L454.47,174.77 L455.04,176.85 L455.61,178.90 L456.19,180.93 L456.76,182.92 L457.34,184.87 L457.91,186.76 L458.48,188.59 L459.06,190.35 L459.63,192.04 L460.21,193.65 L460.78,195.18 L461.35,196.63 L461.93,197.98 L462.50,199.25 L463.08,200.43 L463.65,201.51 L464.22,202.51 L464.80,203.42 L465.37,204.24 L465.95,204.98 L466.52,205.64 L467.09,206.22 L467.67,206.73 L468.24,207.17 L468.82,207.54 L469.39,207.86 L469.96,208.12 L470.54,208.33 L471.11,208.50 L471.69,208.63 L472.26,208.73 L472.83,208.79 L473.41,208.84 L473.98,208.87 L474.56,208.88 L475.13,208.88 L475.70,208.88 L476.28,208.86 L476.85,208.77 L477.43,208.62 L478.00,208.43 L478.57,208.18 L479.15,207.89 L479.72,207.55 L480.30,207.17 L480.87,206.74 L481.44,206.28 L482.02,205.77 L482.59,205.23 L483.17,204.65 L483.74,204.04 L484.31,203.40 L484.89,202.72 L485.46,202.01 L486.04,201.27 L486.61,200.51 L487.18,199.72 L487.76,198.90 L488.33,198.06 L488.91,197.20 L489.48,196.32 L490.05,195.41 L490.63,194.49 L491.20,193.56 L491.78,192.60 L492.35,191.64 L492.92,190.66 L493.50,189.67 L494.07,188.67 L494.65,187.66 L495.22,186.64 L495.79,185.62 L496.37,184.59 L496.94,183.56 L497.52,182.53 L498.09,181.49 L498.66,180.45 L499.24,179.41 L499.81,178.37 L500.39,177.34 L500.96,176.30 L501.53,175.27 L502.11,174.25 L502.68,173.23 L503.26,172.21 L503.83,171.20 L504.40,170.20 L504.98,169.21 L505.55,168.22 L506.13,167.25 L506.70,166.28 L507.27,165.32 L507.85,164.37 L508.42,163.43 L509.00,162.50 L509.57,161.58 L510.14,160.68 L510.72,159.78 L511.29,158.89 L511.87,158.02 L512.44,157.15 L513.01,156.30 L513.59,155.46 L514.16,154.62 L514.74,153.80 L515.31,152.99 L515.88,152.19 L516.46,151.40 L517.03,150.61 L517.61,149.84 L518.18,149.08 L518.75,148.32 L519.33,147.57 L519.90,146.83 L520.48,146.09 L521.05,145.36 L521.62,144.64 L522.20,143.92 L522.77,143.21 L523.35,142.50 L523.92,141.79 L524.49,141.09 L525.07,140.39 L525.64,139.69 L526.22,138.99 L526.79,138.29 L527.36,137.59 L527.94,136.88 L528.51,136.18 L529.09,135.47 L529.66,134.76 L530.23,134.04 L530.81,133.32 L531.38,132.59 L531.96,131.86 L532.53,131.11 L533.10,130.36 L533.68,129.60 L534.25,128.83 L534.83,128.05 L535.40,127.26 L535.97,126.46 L536.55,125.64 L537.12,124.81 L537.70,123.97 L538.27,123.12 L538.84,122.24 L539.42,121.36 L539.99,120.45 L540.57,119.54 L541.14,118.60 L541.71,117.65 L542.29,116.67 L542.86,115.69 L543.44,114.68 L544.01,113.65 L544.58,112.61 L545.16,111.54 L545.73,110.46 L546.31,109.36 L546.88,108.24 L547.45,107.10 L548.03,105.94 L548.60,104.76 L549.18,103.56 L549.75,102.34 L550.32,101.10 L550.90,99.85 L551.47,98.58 L552.05,97.29 L552.62,95.98 L553.19,94.65 L553.77,93.31 L554.34,91.96 L554.92,90.58 L555.49,89.20 L556.06,87.80 L556.64,86.39 L557.21,84.96 L557.79,83.53 L558.36,82.08 L558.93,80.62 L559.51,79.16 L560.08,77.69 L560.66,76.21 L561.23,74.73 L561.80,73.24 L562.38,71.76 L562.95,70.26 L563.53,68.77 L564.10,67.29 L564.67,65.80 L565.25,64.32 L565.82,62.84 L566.40,61.37 L566.97,59.90 L567.54,58.45 L568.12,57.01 L568.69,55.58 L569.27,54.16 L569.84,52.76 L570.41,51.37 L570.99,50.00 L571.56,48.65 L572.14,47.32 L572.71,46.02 L573.28,44.73 L573.86,43.48 L574.43,42.24 L575.01,41.04 L575.58,39.86 L576.15,38.72 L576.73,37.60 L577.30,36.52 L577.88,35.47 L578.45,34.45 L579.02,33.47 L579.60,32.53 L580.17,31.62 L580.75,30.75 L581.32,29.92 L581.89,29.13 L582.47,28.38 L583.04,27.67 L583.62,27.01 L584.19,26.38 L584.76,25.80 L585.34,25.26 L585.91,24.76 L586.49,24.30 L587.06,23.89 L587.63,23.52 L588.21,23.19 L588.78,22.91 L589.36,22.66 L589.93,22.46 L590.50,22.30 L591.08,22.18 L591.65,22.10 L592.23,22.05 L592.80,22.04 L593.37,22.05 L593.95,22.10 L594.52,22.18 L595.10,22.30 L595.67,22.46 L596.24,22.67 L596.82,22.91 L597.39,23.19 L597.97,23.52 L598.54,23.89 L599.11,24.30 L599.69,24.76 L600.26,25.26 L600.84,25.80 L601.41,26.38 L601.98,27.01 L602.56,27.67 L603.13,28.38 L603.71,29.13 L604.28,29.92 L604.85,30.75 L605.43,31.62 L606.00,32.53 L606.58,33.47 L607.15,34.45 L607.72,35.46 L608.30,36.51 L608.87,37.60 L609.45,38.71 L610.02,39.86 L610.59,41.04 L611.17,42.24 L611.74,43.47 L612.32,44.73 L612.89,46.01 L613.46,47.32 L614.04,48.65 L614.61,50.00 L615.19,51.37 L615.76,52.75 L616.33,54.16 L616.91,55.57 L617.48,57.00 L618.06,58.45 L618.63,59.90 L619.20,61.37 L619.78,62.84 L620.35,64.32 L620.93,65.80 L621.50,67.29 L622.07,68.77 L622.65,70.27 L623.22,71.76 L623.80,73.24 L624.37,74.73 L624.94,76.21 L625.52,77.69 L626.09,79.16 L626.67,80.63 L627.24,82.08 L627.81,83.53 L628.39,84.96 L628.96,86.39 L629.54,87.80 L630.11,89.20 L630.68,90.59 L631.26,91.96 L631.83,93.32 L632.41,94.66 L632.98,95.98 L633.55,97.29 L634.13,98.58 L634.70,99.85 L635.28,101.11 L635.85,102.34 L636.42,103.56 L637.00,104.76 L637.57,105.94 L638.15,107.10 L638.72,108.24 L639.29,109.36 L639.87,110.46 L640.44,111.55 L641.02,112.61 L641.59,113.65 L642.16,114.68 L642.74,115.69 L643.31,116.68 L643.89,117.65 L644.46,118.60 L645.03,119.53 L645.61,120.45 L646.18,121.36 L646.76,122.24 L647.33,123.11 L647.90,123.97 L648.48,124.81 L649.05,125.64 L649.63,126.45 L650.20,127.26 L650.77,128.05 L651.35,128.83 L651.92,129.60 L652.50,130.36 L653.07,131.11 L653.64,131.85 L654.22,132.58 L654.79,133.31 L655.37,134.03 L655.94,134.75 L656.51,135.46 L657.09,136.17 L657.66,136.88 L658.24,137.58 L658.81,138.28 L659.38,138.98 L659.96,139.68 L660.53,140.38 L661.11,141.08 L661.68,141.79 L662.25,142.49 L662.83,143.20 L663.40,143.92 L663.98,144.64 L664.55,145.36 L665.12,146.09 L665.70,146.83 L666.27,147.57 L666.85,148.32 L667.42,149.08 L667.99,149.84 L668.57,150.62 L669.14,151.40 L669.72,152.19 L670.29,152.99 L670.86,153.81 L671.44,154.63 L672.01,155.46 L672.59,156.31 L673.16,157.16 L673.73,158.03 L674.31,158.90 L674.88,159.79 L675.46,160.69 L676.03,161.60 L676.60,162.52 L677.18,163.44 L677.75,164.38 L678.33,165.33 L678.90,166.29 L679.47,167.26 L680.05,168.24 L680.62,169.23 L681.20,170.22 L681.77,171.22 L682.34,172.23 L682.92,173.24 L683.49,174.26 L684.07,175.29 L684.64,176.32 L685.21,177.35 L685.79,178.39 L686.36,179.42 L686.94,180.46 L687.51,181.50 L688.08,182.54 L688.66,183.57 L689.23,184.60 L689.81,185.63 L690.38,186.65 L690.95,187.67 L691.53,188.67 L692.10,189.67 L692.68,190.66 L693.25,191.63 L693.82,192.60 L694.40,193.55 L694.97,194.48 L695.55,195.40 L696.12,196.30 L696.69,197.18 L697.27,198.04 L697.84,198.88 L698.42,199.69 L698.99,200.48 L699.56,201.25 L700.14,201.98 L700.71,202.69 L701.29,203.37 L701.86,204.01 L702.43,204.62 L703.01,205.20 L703.58,205.74 L704.16,206.25 L704.73,206.71 L705.30,207.14 L705.88,207.53 L706.45,207.87 L707.03,208.17 L707.60,208.42 L708.17,208.63 L708.75,208.78 L709.32,208.89 L709.90,208.93 L710.47,208.93 L711.04,208.92 L711.62,208.90 L712.19,208.85 L712.77,208.79 L713.34,208.69 L713.91,208.55 L714.49,208.38 L715.06,208.16 L715.64,207.89 L716.21,207.57 L716.78,207.19 L717.36,206.75 L717.93,206.25 L718.51,205.69 L719.08,205.05 L719.65,204.35 L720.23,203.58 L720.80,202.74 L721.38,201.82 L721.95,200.83 L722.52,199.76 L723.10,198.63 L723.67,197.42 L724.25,196.15 L724.82,194.81 L725.39,193.40 L725.97,191.93 L726.54,190.41 L727.12,188.83 L727.69,187.21 L728.26,185.54 L728.84,183.83 L729.41,182.09 L729.99,180.32 L730.56,178.53 L731.13,176.73 L731.71,174.91 L732.28,173.10 L732.86,171.28 L733.43,169.48 L734.00,167.69 L734.58,165.92 L735.15,164.19 L735.73,162.48 L736.30,160.81" stroke="#e4222c" class="cvb"/>
<path d="M449.30,156.37 L449.87,157.63 L450.45,158.92 L451.02,160.22 L451.60,161.54 L452.17,162.88 L452.74,164.22 L453.32,165.57 L453.89,166.92 L454.47,168.27 L455.04,169.61 L455.61,170.93 L456.19,172.24 L456.76,173.53 L457.34,174.80 L457.91,176.04 L458.48,177.25 L459.06,178.42 L459.63,179.56 L460.21,180.65 L460.78,181.70 L461.35,182.71 L461.93,183.67 L462.50,184.58 L463.08,185.44 L463.65,186.25 L464.22,187.01 L464.80,187.72 L465.37,188.37 L465.95,188.97 L466.52,189.52 L467.09,190.02 L467.67,190.47 L468.24,190.87 L468.82,191.23 L469.39,191.54 L469.96,191.80 L470.54,192.03 L471.11,192.22 L471.69,192.38 L472.26,192.50 L472.83,192.59 L473.41,192.66 L473.98,192.71 L474.56,192.73 L475.13,192.75 L475.70,192.75 L476.28,192.74 L476.85,192.71 L477.43,192.64 L478.00,192.55 L478.57,192.42 L479.15,192.26 L479.72,192.07 L480.30,191.85 L480.87,191.60 L481.44,191.32 L482.02,191.02 L482.59,190.69 L483.17,190.33 L483.74,189.94 L484.31,189.53 L484.89,189.09 L485.46,188.63 L486.04,188.15 L486.61,187.64 L487.18,187.11 L487.76,186.56 L488.33,185.99 L488.91,185.39 L489.48,184.78 L490.05,184.15 L490.63,183.51 L491.20,182.84 L491.78,182.16 L492.35,181.47 L492.92,180.76 L493.50,180.04 L494.07,179.30 L494.65,178.56 L495.22,177.80 L495.79,177.03 L496.37,176.26 L496.94,175.47 L497.52,174.68 L498.09,173.88 L498.66,173.07 L499.24,172.26 L499.81,171.45 L500.39,170.63 L500.96,169.81 L501.53,168.98 L502.11,168.16 L502.68,167.33 L503.26,166.50 L503.83,165.67 L504.40,164.85 L504.98,164.02 L505.55,163.19 L506.13,162.37 L506.70,161.55 L507.27,160.73 L507.85,159.91 L508.42,159.10 L509.00,158.29 L509.57,157.48 L510.14,156.68 L510.72,155.89 L511.29,155.09 L511.87,154.31 L512.44,153.52 L513.01,152.74 L513.59,151.97 L514.16,151.20 L514.74,150.44 L515.31,149.68 L515.88,148.92 L516.46,148.17 L517.03,147.43 L517.61,146.68 L518.18,145.95 L518.75,145.21 L519.33,144.48 L519.90,143.76 L520.48,143.03 L521.05,142.31 L521.62,141.60 L522.20,140.88 L522.77,140.17 L523.35,139.45 L523.92,138.74 L524.49,138.03 L525.07,137.32 L525.64,136.61 L526.22,135.90 L526.79,135.19 L527.36,134.48 L527.94,133.77 L528.51,133.05 L529.09,132.34 L529.66,131.62 L530.23,130.89 L530.81,130.16 L531.38,129.43 L531.96,128.70 L532.53,127.96 L533.10,127.21 L533.68,126.46 L534.25,125.70 L534.83,124.93 L535.40,124.16 L535.97,123.38 L536.55,122.60 L537.12,121.81 L537.70,121.00 L538.27,120.19 L538.84,119.38 L539.42,118.55 L539.99,117.71 L540.57,116.87 L541.14,116.02 L541.71,115.15 L542.29,114.28 L542.86,113.40 L543.44,112.50 L544.01,111.60 L544.58,110.69 L545.16,109.77 L545.73,108.84 L546.31,107.90 L546.88,106.95 L547.45,105.99 L548.03,105.03 L548.60,104.05 L549.18,103.06 L549.75,102.07 L550.32,101.07 L550.90,100.06 L551.47,99.04 L552.05,98.02 L552.62,96.99 L553.19,95.95 L553.77,94.91 L554.34,93.86 L554.92,92.81 L555.49,91.75 L556.06,90.69 L556.64,89.63 L557.21,88.56 L557.79,87.49 L558.36,86.42 L558.93,85.35 L559.51,84.28 L560.08,83.21 L560.66,82.14 L561.23,81.08 L561.80,80.01 L562.38,78.95 L562.95,77.90 L563.53,76.85 L564.10,75.80 L564.67,74.76 L565.25,73.73 L565.82,72.71 L566.40,71.70 L566.97,70.70 L567.54,69.70 L568.12,68.72 L568.69,67.75 L569.27,66.80 L569.84,65.86 L570.41,64.93 L570.99,64.02 L571.56,63.12 L572.14,62.24 L572.71,61.38 L573.28,60.54 L573.86,59.71 L574.43,58.91 L575.01,58.13 L575.58,57.36 L576.15,56.62 L576.73,55.90 L577.30,55.21 L577.88,54.53 L578.45,53.88 L579.02,53.26 L579.60,52.66 L580.17,52.08 L580.75,51.53 L581.32,51.01 L581.89,50.51 L582.47,50.04 L583.04,49.59 L583.62,49.18 L584.19,48.79 L584.76,48.42 L585.34,48.09 L585.91,47.78 L586.49,47.49 L587.06,47.24 L587.63,47.01 L588.21,46.81 L588.78,46.63 L589.36,46.49 L589.93,46.36 L590.50,46.26 L591.08,46.19 L591.65,46.14 L592.23,46.11 L592.80,46.10 L593.37,46.11 L593.95,46.14 L594.52,46.19 L595.10,46.26 L595.67,46.36 L596.24,46.48 L596.82,46.63 L597.39,46.81 L597.97,47.01 L598.54,47.24 L599.11,47.49 L599.69,47.78 L600.26,48.09 L600.84,48.42 L601.41,48.79 L601.98,49.18 L602.56,49.60 L603.13,50.04 L603.71,50.51 L604.28,51.01 L604.85,51.53 L605.43,52.08 L606.00,52.66 L606.58,53.26 L607.15,53.89 L607.72,54.54 L608.30,55.21 L608.87,55.91 L609.45,56.62 L610.02,57.37 L610.59,58.13 L611.17,58.91 L611.74,59.72 L612.32,60.54 L612.89,61.38 L613.46,62.25 L614.04,63.12 L614.61,64.02 L615.19,64.93 L615.76,65.86 L616.33,66.80 L616.91,67.76 L617.48,68.73 L618.06,69.71 L618.63,70.70 L619.20,71.70 L619.78,72.71 L620.35,73.74 L620.93,74.77 L621.50,75.80 L622.07,76.85 L622.65,77.90 L623.22,78.95 L623.80,80.01 L624.37,81.08 L624.94,82.14 L625.52,83.21 L626.09,84.28 L626.67,85.35 L627.24,86.42 L627.81,87.49 L628.39,88.56 L628.96,89.62 L629.54,90.69 L630.11,91.75 L630.68,92.80 L631.26,93.86 L631.83,94.90 L632.41,95.95 L632.98,96.98 L633.55,98.01 L634.13,99.03 L634.70,100.05 L635.28,101.06 L635.85,102.06 L636.42,103.05 L637.00,104.04 L637.57,105.01 L638.15,105.98 L638.72,106.94 L639.29,107.89 L639.87,108.83 L640.44,109.76 L641.02,110.68 L641.59,111.59 L642.16,112.49 L642.74,113.38 L643.31,114.26 L643.89,115.13 L644.46,116.00 L645.03,116.85 L645.61,117.70 L646.18,118.53 L646.76,119.36 L647.33,120.18 L647.90,120.98 L648.48,121.79 L649.05,122.58 L649.63,123.37 L650.20,124.14 L650.77,124.91 L651.35,125.68 L651.92,126.44 L652.50,127.19 L653.07,127.94 L653.64,128.68 L654.22,129.41 L654.79,130.15 L655.37,130.87 L655.94,131.60 L656.51,132.32 L657.09,133.04 L657.66,133.76 L658.24,134.47 L658.81,135.18 L659.38,135.89 L659.96,136.60 L660.53,137.32 L661.11,138.03 L661.68,138.74 L662.25,139.45 L662.83,140.16 L663.40,140.88 L663.98,141.59 L664.55,142.31 L665.12,143.03 L665.70,143.76 L666.27,144.49 L666.85,145.22 L667.42,145.95 L667.99,146.69 L668.57,147.44 L669.14,148.18 L669.72,148.94 L670.29,149.69 L670.86,150.45 L671.44,151.22 L672.01,151.99 L672.59,152.76 L673.16,153.54 L673.73,154.33 L674.31,155.12 L674.88,155.91 L675.46,156.71 L676.03,157.51 L676.60,158.32 L677.18,159.13 L677.75,159.94 L678.33,160.76 L678.90,161.58 L679.47,162.40 L680.05,163.23 L680.62,164.05 L681.20,164.88 L681.77,165.71 L682.34,166.54 L682.92,167.37 L683.49,168.19 L684.07,169.02 L684.64,169.84 L685.21,170.67 L685.79,171.48 L686.36,172.30 L686.94,173.11 L687.51,173.91 L688.08,174.71 L688.66,175.50 L689.23,176.28 L689.81,177.06 L690.38,177.82 L690.95,178.58 L691.53,179.32 L692.10,180.05 L692.68,180.77 L693.25,181.48 L693.82,182.17 L694.40,182.85 L694.97,183.51 L695.55,184.15 L696.12,184.78 L696.69,185.39 L697.27,185.98 L697.84,186.55 L698.42,187.10 L698.99,187.62 L699.56,188.13 L700.14,188.61 L700.71,189.07 L701.29,189.50 L701.86,189.91 L702.43,190.30 L703.01,190.66 L703.58,190.99 L704.16,191.29 L704.73,191.57 L705.30,191.82 L705.88,192.04 L706.45,192.23 L707.03,192.39 L707.60,192.52 L708.17,192.62 L708.75,192.69 L709.32,192.73 L709.90,192.74 L710.47,192.73 L711.04,192.72 L711.62,192.68 L712.19,192.63 L712.77,192.55 L713.34,192.45 L713.91,192.31 L714.49,192.14 L715.06,191.94 L715.64,191.70 L716.21,191.42 L716.78,191.10 L717.36,190.75 L717.93,190.35 L718.51,189.90 L719.08,189.42 L719.65,188.89 L720.23,188.31 L720.80,187.69 L721.38,187.03 L721.95,186.33 L722.52,185.58 L723.10,184.79 L723.67,183.95 L724.25,183.08 L724.82,182.17 L725.39,181.22 L725.97,180.24 L726.54,179.23 L727.12,178.18 L727.69,177.11 L728.26,176.01 L728.84,174.88 L729.41,173.74 L729.99,172.58 L730.56,171.40 L731.13,170.22 L731.71,169.02 L732.28,167.82 L732.86,166.61 L733.43,165.40 L734.00,164.20 L734.58,163.01 L735.15,161.82 L735.73,160.64 L736.30,159.48" stroke="#336ba8" class="cvb"/>
<path d="M449.30,155.37 L449.87,156.04 L450.45,156.72 L451.02,157.41 L451.60,158.11 L452.17,158.82 L452.74,159.53 L453.32,160.25 L453.89,160.97 L454.47,161.70 L455.04,162.43 L455.61,163.17 L456.19,163.91 L456.76,164.64 L457.34,165.38 L457.91,166.12 L458.48,166.85 L459.06,167.58 L459.63,168.31 L460.21,169.03 L460.78,169.74 L461.35,170.45 L461.93,171.14 L462.50,171.82 L463.08,172.49 L463.65,173.15 L464.22,173.79 L464.80,174.42 L465.37,175.02 L465.95,175.61 L466.52,176.17 L467.09,176.72 L467.67,177.23 L468.24,177.73 L468.82,178.19 L469.39,178.63 L469.96,179.04 L470.54,179.41 L471.11,179.76 L471.69,180.06 L472.26,180.33 L472.83,180.57 L473.41,180.76 L473.98,180.91 L474.56,181.01 L475.13,181.06 L475.70,181.06 L476.28,181.02 L476.85,180.96 L477.43,180.88 L478.00,180.78 L478.57,180.65 L479.15,180.51 L479.72,180.35 L480.30,180.16 L480.87,179.96 L481.44,179.74 L482.02,179.50 L482.59,179.25 L483.17,178.97 L483.74,178.68 L484.31,178.37 L484.89,178.05 L485.46,177.71 L486.04,177.35 L486.61,176.98 L487.18,176.59 L487.76,176.19 L488.33,175.77 L488.91,175.35 L489.48,174.90 L490.05,174.45 L490.63,173.98 L491.20,173.50 L491.78,173.00 L492.35,172.50 L492.92,171.98 L493.50,171.46 L494.07,170.92 L494.65,170.38 L495.22,169.82 L495.79,169.26 L496.37,168.68 L496.94,168.10 L497.52,167.51 L498.09,166.91 L498.66,166.31 L499.24,165.70 L499.81,165.08 L500.39,164.46 L500.96,163.83 L501.53,163.19 L502.11,162.55 L502.68,161.91 L503.26,161.26 L503.83,160.60 L504.40,159.94 L504.98,159.28 L505.55,158.62 L506.13,157.95 L506.70,157.27 L507.27,156.60 L507.85,155.92 L508.42,155.24 L509.00,154.56 L509.57,153.88 L510.14,153.19 L510.72,152.50 L511.29,151.81 L511.87,151.12 L512.44,150.43 L513.01,149.74 L513.59,149.04 L514.16,148.35 L514.74,147.65 L515.31,146.95 L515.88,146.25 L516.46,145.55 L517.03,144.85 L517.61,144.15 L518.18,143.45 L518.75,142.75 L519.33,142.04 L519.90,141.34 L520.48,140.63 L521.05,139.93 L521.62,139.22 L522.20,138.51 L522.77,137.80 L523.35,137.09 L523.92,136.38 L524.49,135.67 L525.07,134.95 L525.64,134.24 L526.22,133.52 L526.79,132.81 L527.36,132.09 L527.94,131.37 L528.51,130.64 L529.09,129.92 L529.66,129.19 L530.23,128.47 L530.81,127.74 L531.38,127.00 L531.96,126.27 L532.53,125.53 L533.10,124.80 L533.68,124.06 L534.25,123.31 L534.83,122.57 L535.40,121.82 L535.97,121.07 L536.55,120.32 L537.12,119.57 L537.70,118.81 L538.27,118.05 L538.84,117.29 L539.42,116.52 L539.99,115.76 L540.57,114.99 L541.14,114.22 L541.71,113.44 L542.29,112.67 L542.86,111.89 L543.44,111.11 L544.01,110.32 L544.58,109.54 L545.16,108.75 L545.73,107.96 L546.31,107.17 L546.88,106.38 L547.45,105.59 L548.03,104.80 L548.60,104.00 L549.18,103.21 L549.75,102.41 L550.32,101.61 L550.90,100.82 L551.47,100.02 L552.05,99.22 L552.62,98.43 L553.19,97.63 L553.77,96.84 L554.34,96.05 L554.92,95.25 L555.49,94.46 L556.06,93.68 L556.64,92.89 L557.21,92.11 L557.79,91.33 L558.36,90.55 L558.93,89.78 L559.51,89.01 L560.08,88.25 L560.66,87.49 L561.23,86.74 L561.80,85.99 L562.38,85.25 L562.95,84.51 L563.53,83.78 L564.10,83.06 L564.67,82.35 L565.25,81.64 L565.82,80.94 L566.40,80.25 L566.97,79.57 L567.54,78.89 L568.12,78.23 L568.69,77.58 L569.27,76.93 L569.84,76.30 L570.41,75.68 L570.99,75.07 L571.56,74.47 L572.14,73.89 L572.71,73.32 L573.28,72.76 L573.86,72.21 L574.43,71.68 L575.01,71.16 L575.58,70.65 L576.15,70.16 L576.73,69.68 L577.30,69.22 L577.88,68.78 L578.45,68.34 L579.02,67.93 L579.60,67.53 L580.17,67.15 L580.75,66.78 L581.32,66.43 L581.89,66.10 L582.47,65.78 L583.04,65.49 L583.62,65.20 L584.19,64.94 L584.76,64.69 L585.34,64.46 L585.91,64.25 L586.49,64.06 L587.06,63.88 L587.63,63.72 L588.21,63.58 L588.78,63.46 L589.36,63.35 L589.93,63.26 L590.50,63.19 L591.08,63.14 L591.65,63.10 L592.23,63.08 L592.80,63.13 L593.37,63.14 L593.95,63.16 L594.52,63.19 L595.10,63.24 L595.67,63.31 L596.24,63.39 L596.82,63.49 L597.39,63.61 L597.97,63.75 L598.54,63.90 L599.11,64.07 L599.69,64.26 L600.26,64.46 L600.84,64.68 L601.41,64.92 L601.98,65.18 L602.56,65.46 L603.13,65.75 L603.71,66.06 L604.28,66.39 L604.85,66.73 L605.43,67.09 L606.00,67.47 L606.58,67.87 L607.15,68.28 L607.72,68.70 L608.30,69.15 L608.87,69.61 L609.45,70.08 L610.02,70.57 L610.59,71.08 L611.17,71.60 L611.74,72.13 L612.32,72.68 L612.89,73.24 L613.46,73.81 L614.04,74.40 L614.61,75.00 L615.19,75.61 L615.76,76.24 L616.33,76.87 L616.91,77.52 L617.48,78.18 L618.06,78.85 L618.63,79.53 L619.20,80.21 L619.78,80.91 L620.35,81.62 L620.93,82.33 L621.50,83.05 L622.07,83.78 L622.65,84.52 L623.22,85.26 L623.80,86.01 L624.37,86.77 L624.94,87.53 L625.52,88.30 L626.09,89.07 L626.67,89.84 L627.24,90.62 L627.81,91.41 L628.39,92.20 L628.96,92.98 L629.54,93.78 L630.11,94.57 L630.68,95.37 L631.26,96.17 L631.83,96.97 L632.41,97.77 L632.98,98.57 L633.55,99.37 L634.13,100.17 L634.70,100.97 L635.28,101.77 L635.85,102.57 L636.42,103.37 L637.00,104.17 L637.57,104.97 L638.15,105.77 L638.72,106.56 L639.29,107.35 L639.87,108.14 L640.44,108.93 L641.02,109.72 L641.59,110.50 L642.16,111.28 L642.74,112.06 L643.31,112.84 L643.89,113.61 L644.46,114.38 L645.03,115.15 L645.61,115.92 L646.18,116.68 L646.76,117.44 L647.33,118.20 L647.90,118.95 L648.48,119.70 L649.05,120.45 L649.63,121.20 L650.20,121.94 L650.77,122.68 L651.35,123.42 L651.92,124.15 L652.50,124.88 L653.07,125.61 L653.64,126.34 L654.22,127.07 L654.79,127.79 L655.37,128.51 L655.94,129.23 L656.51,129.95 L657.09,130.67 L657.66,131.38 L658.24,132.09 L658.81,132.80 L659.38,133.52 L659.96,134.22 L660.53,134.93 L661.11,135.64 L661.68,136.35 L662.25,137.05 L662.83,137.76 L663.40,138.46 L663.98,139.16 L664.55,139.87 L665.12,140.57 L665.70,141.27 L666.27,141.98 L666.85,142.68 L667.42,143.38 L667.99,144.08 L668.57,144.78 L669.14,145.49 L669.72,146.19 L670.29,146.89 L670.86,147.59 L671.44,148.29 L672.01,148.99 L672.59,149.69 L673.16,150.39 L673.73,151.09 L674.31,151.79 L674.88,152.49 L675.46,153.18 L676.03,153.88 L676.60,154.57 L677.18,155.27 L677.75,155.96 L678.33,156.65 L678.90,157.34 L679.47,158.02 L680.05,158.70 L680.62,159.38 L681.20,160.06 L681.77,160.73 L682.34,161.40 L682.92,162.07 L683.49,162.73 L684.07,163.39 L684.64,164.04 L685.21,164.68 L685.79,165.32 L686.36,165.96 L686.94,166.58 L687.51,167.20 L688.08,167.81 L688.66,168.42 L689.23,169.01 L689.81,169.60 L690.38,170.18 L690.95,170.75 L691.53,171.31 L692.10,171.85 L692.68,172.39 L693.25,172.91 L693.82,173.43 L694.40,173.93 L694.97,174.41 L695.55,174.89 L696.12,175.35 L696.69,175.79 L697.27,176.22 L697.84,176.64 L698.42,177.03 L698.99,177.42 L699.56,177.78 L700.14,178.13 L700.71,178.46 L701.29,178.78 L701.86,179.07 L702.43,179.35 L703.01,179.61 L703.58,179.84 L704.16,180.06 L704.73,180.26 L705.30,180.43 L705.88,180.59 L706.45,180.72 L707.03,180.83 L707.60,180.92 L708.17,180.99 L708.75,181.03 L709.32,181.03 L709.90,180.95 L710.47,180.80 L711.04,180.61 L711.62,180.38 L712.19,180.12 L712.77,179.82 L713.34,179.49 L713.91,179.13 L714.49,178.75 L715.06,178.34 L715.64,177.92 L716.21,177.47 L716.78,177.00 L717.36,176.52 L717.93,176.02 L718.51,175.51 L719.08,174.98 L719.65,174.44 L720.23,173.89 L720.80,173.33 L721.38,172.76 L721.95,172.18 L722.52,171.59 L723.10,171.00 L723.67,170.40 L724.25,169.80 L724.82,169.19 L725.39,168.58 L725.97,167.97 L726.54,167.36 L727.12,166.74 L727.69,166.13 L728.26,165.51 L728.84,164.90 L729.41,164.29 L729.99,163.68 L730.56,163.07 L731.13,162.47 L731.71,161.87 L732.28,161.27 L732.86,160.68 L733.43,160.09 L734.00,159.51 L734.58,158.93 L735.15,158.36 L735.73,157.80 L736.30,157.24" stroke="#f7b520" class="cvb"/>
<path d="M449.30,154.42 L449.87,155.03 L450.45,155.63 L451.02,156.24 L451.60,156.85 L452.17,157.46 L452.74,158.06 L453.32,158.67 L453.89,159.26 L454.47,159.86 L455.04,160.45 L455.61,161.03 L456.19,161.60 L456.76,162.17 L457.34,162.73 L457.91,163.27 L458.48,163.81 L459.06,164.33 L459.63,164.84 L460.21,165.33 L460.78,165.81 L461.35,166.28 L461.93,166.73 L462.50,167.16 L463.08,167.57 L463.65,167.97 L464.22,168.34 L464.80,168.70 L465.37,169.04 L465.95,169.36 L466.52,169.66 L467.09,169.93 L467.67,170.19 L468.24,170.43 L468.82,170.64 L469.39,170.84 L469.96,171.01 L470.54,171.16 L471.11,171.29 L471.69,171.41 L472.26,171.50 L472.83,171.57 L473.41,171.63 L473.98,171.67 L474.56,171.69 L475.13,171.70 L475.70,171.70 L476.28,171.68 L476.85,171.65 L477.43,171.61 L478.00,171.56 L478.57,171.49 L479.15,171.40 L479.72,171.31 L480.30,171.19 L480.87,171.06 L481.44,170.92 L482.02,170.76 L482.59,170.59 L483.17,170.41 L483.74,170.20 L484.31,169.99 L484.89,169.76 L485.46,169.52 L486.04,169.26 L486.61,168.99 L487.18,168.70 L487.76,168.40 L488.33,168.09 L488.91,167.77 L489.48,167.43 L490.05,167.08 L490.63,166.72 L491.20,166.35 L491.78,165.96 L492.35,165.56 L492.92,165.16 L493.50,164.74 L494.07,164.31 L494.65,163.87 L495.22,163.42 L495.79,162.97 L496.37,162.50 L496.94,162.02 L497.52,161.54 L498.09,161.05 L498.66,160.55 L499.24,160.04 L499.81,159.52 L500.39,159.00 L500.96,158.48 L501.53,157.94 L502.11,157.40 L502.68,156.86 L503.26,156.31 L503.83,155.75 L504.40,155.19 L504.98,154.63 L505.55,154.06 L506.13,153.48 L506.70,152.91 L507.27,152.33 L507.85,151.75 L508.42,151.16 L509.00,150.57 L509.57,149.98 L510.14,149.39 L510.72,148.79 L511.29,148.19 L511.87,147.60 L512.44,147.00 L513.01,146.39 L513.59,145.79 L514.16,145.18 L514.74,144.58 L515.31,143.97 L515.88,143.36 L516.46,142.76 L517.03,142.15 L517.61,141.54 L518.18,140.92 L518.75,140.31 L519.33,139.70 L519.90,139.09 L520.48,138.47 L521.05,137.86 L521.62,137.24 L522.20,136.63 L522.77,136.01 L523.35,135.39 L523.92,134.77 L524.49,134.15 L525.07,133.53 L525.64,132.91 L526.22,132.29 L526.79,131.67 L527.36,131.04 L527.94,130.42 L528.51,129.79 L529.09,129.17 L529.66,128.54 L530.23,127.91 L530.81,127.28 L531.38,126.64 L531.96,126.01 L532.53,125.37 L533.10,124.74 L533.68,124.10 L534.25,123.46 L534.83,122.82 L535.40,122.17 L535.97,121.53 L536.55,120.88 L537.12,120.23 L537.70,119.58 L538.27,118.93 L538.84,118.28 L539.42,117.62 L539.99,116.96 L540.57,116.31 L541.14,115.65 L541.71,114.99 L542.29,114.32 L542.86,113.66 L543.44,112.99 L544.01,112.33 L544.58,111.66 L545.16,111.00 L545.73,110.33 L546.31,109.66 L546.88,108.99 L547.45,108.32 L548.03,107.65 L548.60,106.98 L549.18,106.31 L549.75,105.65 L550.32,104.98 L550.90,104.31 L551.47,103.65 L552.05,102.98 L552.62,102.32 L553.19,101.66 L553.77,101.00 L554.34,100.35 L554.92,99.69 L555.49,99.04 L556.06,98.40 L556.64,97.75 L557.21,97.11 L557.79,96.48 L558.36,95.85 L558.93,95.22 L559.51,94.60 L560.08,93.98 L560.66,93.37 L561.23,92.77 L561.80,92.17 L562.38,91.58 L562.95,90.99 L563.53,90.41 L564.10,89.84 L564.67,89.28 L565.25,88.73 L565.82,88.18 L566.40,87.64 L566.97,87.11 L567.54,86.59 L568.12,86.08 L568.69,85.58 L569.27,85.09 L569.84,84.61 L570.41,84.14 L570.99,83.68 L571.56,83.23 L572.14,82.79 L572.71,82.36 L573.28,81.95 L573.86,81.55 L574.43,81.15 L575.01,80.78 L575.58,80.41 L576.15,80.05 L576.73,79.71 L577.30,79.38 L577.88,79.07 L578.45,78.76 L579.02,78.47 L579.60,78.20 L580.17,77.93 L580.75,77.68 L581.32,77.44 L581.89,77.22 L582.47,77.01 L583.04,76.81 L583.62,76.62 L584.19,76.45 L584.76,76.29 L585.34,76.14 L585.91,76.01 L586.49,75.89 L587.06,75.78 L587.63,75.68 L588.21,75.60 L588.78,75.53 L589.36,75.47 L589.93,75.42 L590.50,75.38 L591.08,75.35 L591.65,75.33 L592.23,75.32 L592.80,75.32 L593.37,75.32 L593.95,75.33 L594.52,75.35 L595.10,75.38 L595.67,75.42 L596.24,75.46 L596.82,75.52 L597.39,75.59 L597.97,75.67 L598.54,75.77 L599.11,75.87 L599.69,75.99 L600.26,76.12 L600.84,76.27 L601.41,76.42 L601.98,76.59 L602.56,76.78 L603.13,76.97 L603.71,77.18 L604.28,77.41 L604.85,77.64 L605.43,77.89 L606.00,78.15 L606.58,78.43 L607.15,78.72 L607.72,79.02 L608.30,79.34 L608.87,79.67 L609.45,80.01 L610.02,80.36 L610.59,80.73 L611.17,81.11 L611.74,81.50 L612.32,81.91 L612.89,82.32 L613.46,82.75 L614.04,83.19 L614.61,83.64 L615.19,84.10 L615.76,84.58 L616.33,85.06 L616.91,85.55 L617.48,86.06 L618.06,86.57 L618.63,87.10 L619.20,87.63 L619.78,88.17 L620.35,88.72 L620.93,89.28 L621.50,89.85 L622.07,90.43 L622.65,91.01 L623.22,91.60 L623.80,92.20 L624.37,92.80 L624.94,93.41 L625.52,94.03 L626.09,94.65 L626.67,95.28 L627.24,95.91 L627.81,96.54 L628.39,97.18 L628.96,97.83 L629.54,98.48 L630.11,99.13 L630.68,99.78 L631.26,100.44 L631.83,101.10 L632.41,101.76 L632.98,102.43 L633.55,103.09 L634.13,103.76 L634.70,104.43 L635.28,105.10 L635.85,105.77 L636.42,106.44 L637.00,107.11 L637.57,107.78 L638.15,108.45 L638.72,109.12 L639.29,109.79 L639.87,110.46 L640.44,111.13 L641.02,111.80 L641.59,112.47 L642.16,113.13 L642.74,113.80 L643.31,114.46 L643.89,115.12 L644.46,115.78 L645.03,116.44 L645.61,117.09 L646.18,117.75 L646.76,118.40 L647.33,119.05 L647.90,119.70 L648.48,120.35 L649.05,120.99 L649.63,121.63 L650.20,122.28 L650.77,122.92 L651.35,123.55 L651.92,124.19 L652.50,124.82 L653.07,125.46 L653.64,126.09 L654.22,126.72 L654.79,127.34 L655.37,127.97 L655.94,128.59 L656.51,129.22 L657.09,129.84 L657.66,130.46 L658.24,131.08 L658.81,131.70 L659.38,132.32 L659.96,132.94 L660.53,133.55 L661.11,134.17 L661.68,134.78 L662.25,135.40 L662.83,136.01 L663.40,136.63 L663.98,137.24 L664.55,137.85 L665.12,138.46 L665.70,139.08 L666.27,139.69 L666.85,140.30 L667.42,140.91 L667.99,141.52 L668.57,142.13 L669.14,142.73 L669.72,143.34 L670.29,143.95 L670.86,144.56 L671.44,145.16 L672.01,145.77 L672.59,146.37 L673.16,146.98 L673.73,147.58 L674.31,148.18 L674.88,148.78 L675.46,149.37 L676.03,149.97 L676.60,150.56 L677.18,151.15 L677.75,151.74 L678.33,152.32 L678.90,152.90 L679.47,153.48 L680.05,154.06 L680.62,154.63 L681.20,155.19 L681.77,155.76 L682.34,156.31 L682.92,156.87 L683.49,157.41 L684.07,157.96 L684.64,158.49 L685.21,159.02 L685.79,159.54 L686.36,160.06 L686.94,160.57 L687.51,161.07 L688.08,161.56 L688.66,162.04 L689.23,162.52 L689.81,162.99 L690.38,163.44 L690.95,163.89 L691.53,164.33 L692.10,164.75 L692.68,165.17 L693.25,165.58 L693.82,165.97 L694.40,166.35 L694.97,166.72 L695.55,167.08 L696.12,167.43 L696.69,167.76 L697.27,168.08 L697.84,168.39 L698.42,168.68 L698.99,168.96 L699.56,169.23 L700.14,169.48 L700.71,169.72 L701.29,169.95 L701.86,170.16 L702.43,170.36 L703.01,170.54 L703.58,170.71 L704.16,170.86 L704.73,171.00 L705.30,171.13 L705.88,171.24 L706.45,171.34 L707.03,171.43 L707.60,171.50 L708.17,171.55 L708.75,171.60 L709.32,171.63 L709.90,171.65 L710.47,171.66 L711.04,171.63 L711.62,171.57 L712.19,171.49 L712.77,171.38 L713.34,171.25 L713.91,171.09 L714.49,170.92 L715.06,170.72 L715.64,170.51 L716.21,170.28 L716.78,170.03 L717.36,169.77 L717.93,169.49 L718.51,169.20 L719.08,168.89 L719.65,168.57 L720.23,168.24 L720.80,167.90 L721.38,167.54 L721.95,167.18 L722.52,166.80 L723.10,166.42 L723.67,166.02 L724.25,165.62 L724.82,165.21 L725.39,164.80 L725.97,164.37 L726.54,163.94 L727.12,163.51 L727.69,163.07 L728.26,162.63 L728.84,162.18 L729.41,161.74 L729.99,161.28 L730.56,160.83 L731.13,160.37 L731.71,159.92 L732.28,159.46 L732.86,159.00 L733.43,158.54 L734.00,158.08 L734.58,157.63 L735.15,157.17 L735.73,156.71 L736.30,156.26" stroke="#3db36e" class="cvb"/>
<path d="M449.30,153.23 L449.87,153.85 L450.45,154.46 L451.02,155.06 L451.60,155.64 L452.17,156.21 L452.74,156.77 L453.32,157.31 L453.89,157.83 L454.47,158.33 L455.04,158.82 L455.61,159.28 L456.19,159.73 L456.76,160.15 L457.34,160.55 L457.91,160.92 L458.48,161.28 L459.06,161.61 L459.63,161.92 L460.21,162.21 L460.78,162.47 L461.35,162.72 L461.93,162.94 L462.50,163.15 L463.08,163.33 L463.65,163.49 L464.22,163.64 L464.80,163.77 L465.37,163.88 L465.95,163.97 L466.52,164.06 L467.09,164.13 L467.67,164.18 L468.24,164.23 L468.82,164.26 L469.39,164.29 L469.96,164.31 L470.54,164.32 L471.11,164.32 L471.69,164.33 L472.26,164.33 L472.83,164.33 L473.41,164.32 L473.98,164.31 L474.56,164.29 L475.13,164.27 L475.70,164.24 L476.28,164.19 L476.85,164.14 L477.43,164.07 L478.00,164.00 L478.57,163.91 L479.15,163.81 L479.72,163.70 L480.30,163.58 L480.87,163.44 L481.44,163.30 L482.02,163.14 L482.59,162.96 L483.17,162.78 L483.74,162.58 L484.31,162.37 L484.89,162.15 L485.46,161.91 L486.04,161.66 L486.61,161.40 L487.18,161.13 L487.76,160.85 L488.33,160.55 L488.91,160.24 L489.48,159.92 L490.05,159.59 L490.63,159.25 L491.20,158.90 L491.78,158.54 L492.35,158.17 L492.92,157.79 L493.50,157.40 L494.07,157.00 L494.65,156.60 L495.22,156.19 L495.79,155.77 L496.37,155.34 L496.94,154.91 L497.52,154.47 L498.09,154.02 L498.66,153.57 L499.24,153.12 L499.81,152.66 L500.39,152.20 L500.96,151.74 L501.53,151.27 L502.11,150.80 L502.68,150.33 L503.26,149.85 L503.83,149.38 L504.40,148.91 L504.98,148.43 L505.55,147.96 L506.13,147.48 L506.70,147.01 L507.27,146.53 L507.85,146.06 L508.42,145.59 L509.00,145.12 L509.57,144.66 L510.14,144.19 L510.72,143.73 L511.29,143.27 L511.87,142.81 L512.44,142.36 L513.01,141.91 L513.59,141.46 L514.16,141.01 L514.74,140.57 L515.31,140.13 L515.88,139.69 L516.46,139.25 L517.03,138.82 L517.61,138.39 L518.18,137.96 L518.75,137.53 L519.33,137.11 L519.90,136.69 L520.48,136.27 L521.05,135.85 L521.62,135.43 L522.20,135.01 L522.77,134.60 L523.35,134.18 L523.92,133.77 L524.49,133.35 L525.07,132.94 L525.64,132.52 L526.22,132.11 L526.79,131.69 L527.36,131.27 L527.94,130.85 L528.51,130.43 L529.09,130.01 L529.66,129.58 L530.23,129.16 L530.81,128.73 L531.38,128.29 L531.96,127.86 L532.53,127.42 L533.10,126.97 L533.68,126.53 L534.25,126.07 L534.83,125.62 L535.40,125.16 L535.97,124.70 L536.55,124.23 L537.12,123.75 L537.70,123.28 L538.27,122.79 L538.84,122.30 L539.42,121.81 L539.99,121.31 L540.57,120.81 L541.14,120.30 L541.71,119.79 L542.29,119.27 L542.86,118.75 L543.44,118.23 L544.01,117.69 L544.58,117.16 L545.16,116.62 L545.73,116.07 L546.31,115.52 L546.88,114.97 L547.45,114.41 L548.03,113.85 L548.60,113.29 L549.18,112.73 L549.75,112.16 L550.32,111.59 L550.90,111.01 L551.47,110.44 L552.05,109.86 L552.62,109.28 L553.19,108.70 L553.77,108.12 L554.34,107.55 L554.92,106.97 L555.49,106.39 L556.06,105.81 L556.64,105.23 L557.21,104.66 L557.79,104.08 L558.36,103.51 L558.93,102.95 L559.51,102.38 L560.08,101.82 L560.66,101.26 L561.23,100.71 L561.80,100.16 L562.38,99.62 L562.95,99.09 L563.53,98.56 L564.10,98.03 L564.67,97.51 L565.25,97.00 L565.82,96.50 L566.40,96.01 L566.97,95.52 L567.54,95.04 L568.12,94.57 L568.69,94.11 L569.27,93.66 L569.84,93.22 L570.41,92.79 L570.99,92.37 L571.56,91.96 L572.14,91.56 L572.71,91.17 L573.28,90.80 L573.86,90.43 L574.43,90.08 L575.01,89.74 L575.58,89.41 L576.15,89.09 L576.73,88.78 L577.30,88.49 L577.88,88.21 L578.45,87.94 L579.02,87.69 L579.60,87.44 L580.17,87.21 L580.75,86.99 L581.32,86.79 L581.89,86.60 L582.47,86.42 L583.04,86.25 L583.62,86.09 L584.19,85.95 L584.76,85.82 L585.34,85.70 L585.91,85.59 L586.49,85.49 L587.06,85.40 L587.63,85.33 L588.21,85.26 L588.78,85.20 L589.36,85.16 L589.93,85.12 L590.50,85.09 L591.08,85.07 L591.65,85.06 L592.23,85.05 L592.80,85.10 L593.37,85.10 L593.95,85.11 L594.52,85.12 L595.10,85.14 L595.67,85.16 L596.24,85.20 L596.82,85.24 L597.39,85.29 L597.97,85.36 L598.54,85.43 L599.11,85.51 L599.69,85.61 L600.26,85.71 L600.84,85.83 L601.41,85.96 L601.98,86.10 L602.56,86.25 L603.13,86.41 L603.71,86.59 L604.28,86.78 L604.85,86.98 L605.43,87.19 L606.00,87.42 L606.58,87.66 L607.15,87.91 L607.72,88.18 L608.30,88.45 L608.87,88.74 L609.45,89.04 L610.02,89.36 L610.59,89.68 L611.17,90.02 L611.74,90.37 L612.32,90.74 L612.89,91.11 L613.46,91.50 L614.04,91.89 L614.61,92.30 L615.19,92.72 L615.76,93.15 L616.33,93.59 L616.91,94.04 L617.48,94.50 L618.06,94.97 L618.63,95.45 L619.20,95.94 L619.78,96.43 L620.35,96.94 L620.93,97.45 L621.50,97.97 L622.07,98.50 L622.65,99.03 L623.22,99.57 L623.80,100.11 L624.37,100.66 L624.94,101.22 L625.52,101.78 L626.09,102.35 L626.67,102.91 L627.24,103.49 L627.81,104.06 L628.39,104.64 L628.96,105.22 L629.54,105.80 L630.11,106.38 L630.68,106.97 L631.26,107.55 L631.83,108.14 L632.41,108.72 L632.98,109.30 L633.55,109.89 L634.13,110.47 L634.70,111.05 L635.28,111.63 L635.85,112.20 L636.42,112.78 L637.00,113.35 L637.57,113.91 L638.15,114.48 L638.72,115.04 L639.29,115.60 L639.87,116.15 L640.44,116.70 L641.02,117.24 L641.59,117.78 L642.16,118.31 L642.74,118.84 L643.31,119.37 L643.89,119.89 L644.46,120.40 L645.03,120.91 L645.61,121.41 L646.18,121.91 L646.76,122.41 L647.33,122.89 L647.90,123.38 L648.48,123.86 L649.05,124.33 L649.63,124.80 L650.20,125.26 L650.77,125.72 L651.35,126.17 L651.92,126.62 L652.50,127.06 L653.07,127.51 L653.64,127.94 L654.22,128.38 L654.79,128.81 L655.37,129.23 L655.94,129.66 L656.51,130.08 L657.09,130.50 L657.66,130.91 L658.24,131.33 L658.81,131.74 L659.38,132.16 L659.96,132.57 L660.53,132.98 L661.11,133.39 L661.68,133.80 L662.25,134.21 L662.83,134.62 L663.40,135.03 L663.98,135.44 L664.55,135.86 L665.12,136.27 L665.70,136.69 L666.27,137.11 L666.85,137.53 L667.42,137.95 L667.99,138.37 L668.57,138.80 L669.14,139.23 L669.72,139.67 L670.29,140.10 L670.86,140.54 L671.44,140.98 L672.01,141.43 L672.59,141.88 L673.16,142.33 L673.73,142.78 L674.31,143.24 L674.88,143.70 L675.46,144.16 L676.03,144.62 L676.60,145.09 L677.18,145.56 L677.75,146.03 L678.33,146.50 L678.90,146.98 L679.47,147.45 L680.05,147.93 L680.62,148.40 L681.20,148.88 L681.77,149.36 L682.34,149.83 L682.92,150.31 L683.49,150.78 L684.07,151.25 L684.64,151.72 L685.21,152.19 L685.79,152.65 L686.36,153.11 L686.94,153.57 L687.51,154.02 L688.08,154.46 L688.66,154.90 L689.23,155.34 L689.81,155.77 L690.38,156.19 L690.95,156.60 L691.53,157.01 L692.10,157.40 L692.68,157.79 L693.25,158.17 L693.82,158.54 L694.40,158.90 L694.97,159.25 L695.55,159.59 L696.12,159.92 L696.69,160.24 L697.27,160.55 L697.84,160.84 L698.42,161.12 L698.99,161.39 L699.56,161.65 L700.14,161.90 L700.71,162.13 L701.29,162.35 L701.86,162.56 L702.43,162.75 L703.01,162.94 L703.58,163.11 L704.16,163.26 L704.73,163.41 L705.30,163.54 L705.88,163.66 L706.45,163.77 L707.03,163.87 L707.60,163.95 L708.17,164.03 L708.75,164.09 L709.32,164.14 L709.90,164.18 L710.47,164.22 L711.04,164.24 L711.62,164.26 L712.19,164.27 L712.77,164.28 L713.34,164.28 L713.91,164.28 L714.49,164.27 L715.06,164.26 L715.64,164.25 L716.21,164.22 L716.78,164.19 L717.36,164.15 L717.93,164.10 L718.51,164.04 L719.08,163.96 L719.65,163.88 L720.23,163.78 L720.80,163.66 L721.38,163.53 L721.95,163.39 L722.52,163.23 L723.10,163.06 L723.67,162.87 L724.25,162.66 L724.82,162.43 L725.39,162.19 L725.97,161.93 L726.54,161.66 L727.12,161.36 L727.69,161.05 L728.26,160.73 L728.84,160.38 L729.41,160.02 L729.99,159.65 L730.56,159.25 L731.13,158.85 L731.71,158.42 L732.28,157.99 L732.86,157.54 L733.43,157.08 L734.00,156.60 L734.58,156.12 L735.15,155.62 L735.73,155.12 L736.30,154.61" stroke="#5b52a3" class="cvb"/>
<path d="M449.30,151.76 L449.87,152.04 L450.45,152.32 L451.02,152.60 L451.60,152.88 L452.17,153.15 L452.74,153.42 L453.32,153.69 L453.89,153.95 L454.47,154.21 L455.04,154.46 L455.61,154.70 L456.19,154.95 L456.76,155.18 L457.34,155.41 L457.91,155.64 L458.48,155.86 L459.06,156.07 L459.63,156.28 L460.21,156.48 L460.78,156.67 L461.35,156.86 L461.93,157.03 L462.50,157.20 L463.08,157.37 L463.65,157.52 L464.22,157.67 L464.80,157.81 L465.37,157.94 L465.95,158.06 L466.52,158.18 L467.09,158.29 L467.67,158.38 L468.24,158.47 L468.82,158.55 L469.39,158.63 L469.96,158.69 L470.54,158.75 L471.11,158.80 L471.69,158.84 L472.26,158.87 L472.83,158.89 L473.41,158.91 L473.98,158.91 L474.56,158.92 L475.13,158.91 L475.70,158.90 L476.28,158.89 L476.85,158.87 L477.43,158.85 L478.00,158.82 L478.57,158.79 L479.15,158.75 L479.72,158.71 L480.30,158.65 L480.87,158.59 L481.44,158.52 L482.02,158.44 L482.59,158.35 L483.17,158.25 L483.74,158.14 L484.31,158.01 L484.89,157.88 L485.46,157.74 L486.04,157.59 L486.61,157.42 L487.18,157.25 L487.76,157.06 L488.33,156.86 L488.91,156.64 L489.48,156.42 L490.05,156.19 L490.63,155.94 L491.20,155.68 L491.78,155.41 L492.35,155.12 L492.92,154.83 L493.50,154.52 L494.07,154.21 L494.65,153.88 L495.22,153.54 L495.79,153.19 L496.37,152.83 L496.94,152.46 L497.52,152.08 L498.09,151.70 L498.66,151.30 L499.24,150.89 L499.81,150.48 L500.39,150.06 L500.96,149.63 L501.53,149.20 L502.11,148.75 L502.68,148.31 L503.26,147.85 L503.83,147.40 L504.40,146.93 L504.98,146.47 L505.55,146.00 L506.13,145.53 L506.70,145.05 L507.27,144.57 L507.85,144.09 L508.42,143.61 L509.00,143.13 L509.57,142.65 L510.14,142.17 L510.72,141.68 L511.29,141.20 L511.87,140.72 L512.44,140.24 L513.01,139.76 L513.59,139.29 L514.16,138.81 L514.74,138.34 L515.31,137.87 L515.88,137.41 L516.46,136.94 L517.03,136.48 L517.61,136.02 L518.18,135.57 L518.75,135.12 L519.33,134.67 L519.90,134.23 L520.48,133.78 L521.05,133.35 L521.62,132.91 L522.20,132.48 L522.77,132.05 L523.35,131.63 L523.92,131.21 L524.49,130.79 L525.07,130.37 L525.64,129.96 L526.22,129.54 L526.79,129.14 L527.36,128.73 L527.94,128.32 L528.51,127.92 L529.09,127.52 L529.66,127.12 L530.23,126.72 L530.81,126.32 L531.38,125.93 L531.96,125.53 L532.53,125.13 L533.10,124.74 L533.68,124.34 L534.25,123.95 L534.83,123.55 L535.40,123.16 L535.97,122.76 L536.55,122.36 L537.12,121.97 L537.70,121.57 L538.27,121.17 L538.84,120.77 L539.42,120.37 L539.99,119.96 L540.57,119.56 L541.14,119.16 L541.71,118.75 L542.29,118.34 L542.86,117.93 L543.44,117.52 L544.01,117.11 L544.58,116.70 L545.16,116.29 L545.73,115.87 L546.31,115.46 L546.88,115.04 L547.45,114.62 L548.03,114.20 L548.60,113.78 L549.18,113.36 L549.75,112.94 L550.32,112.52 L550.90,112.10 L551.47,111.68 L552.05,111.26 L552.62,110.84 L553.19,110.42 L553.77,110.00 L554.34,109.58 L554.92,109.17 L555.49,108.75 L556.06,108.34 L556.64,107.92 L557.21,107.51 L557.79,107.10 L558.36,106.70 L558.93,106.29 L559.51,105.89 L560.08,105.49 L560.66,105.10 L561.23,104.71 L561.80,104.32 L562.38,103.93 L562.95,103.55 L563.53,103.17 L564.10,102.80 L564.67,102.43 L565.25,102.07 L565.82,101.71 L566.40,101.36 L566.97,101.01 L567.54,100.67 L568.12,100.34 L568.69,100.01 L569.27,99.68 L569.84,99.37 L570.41,99.06 L570.99,98.75 L571.56,98.46 L572.14,98.17 L572.71,97.89 L573.28,97.61 L573.86,97.34 L574.43,97.08 L575.01,96.83 L575.58,96.59 L576.15,96.35 L576.73,96.12 L577.30,95.90 L577.88,95.69 L578.45,95.49 L579.02,95.29 L579.60,95.11 L580.17,94.93 L580.75,94.76 L581.32,94.60 L581.89,94.45 L582.47,94.31 L583.04,94.17 L583.62,94.05 L584.19,93.93 L584.76,93.82 L585.34,93.72 L585.91,93.63 L586.49,93.55 L587.06,93.47 L587.63,93.40 L588.21,93.35 L588.78,93.30 L589.36,93.25 L589.93,93.22 L590.50,93.19 L591.08,93.17 L591.65,93.16 L592.23,93.15 L592.80,93.13 L593.37,93.14 L593.95,93.14 L594.52,93.16 L595.10,93.18 L595.67,93.22 L596.24,93.26 L596.82,93.30 L597.39,93.36 L597.97,93.42 L598.54,93.50 L599.11,93.58 L599.69,93.67 L600.26,93.76 L600.84,93.87 L601.41,93.99 L601.98,94.11 L602.56,94.24 L603.13,94.38 L603.71,94.53 L604.28,94.69 L604.85,94.85 L605.43,95.03 L606.00,95.21 L606.58,95.40 L607.15,95.60 L607.72,95.81 L608.30,96.02 L608.87,96.24 L609.45,96.48 L610.02,96.71 L610.59,96.96 L611.17,97.21 L611.74,97.47 L612.32,97.74 L612.89,98.02 L613.46,98.30 L614.04,98.58 L614.61,98.88 L615.19,99.18 L615.76,99.49 L616.33,99.80 L616.91,100.12 L617.48,100.44 L618.06,100.78 L618.63,101.11 L619.20,101.45 L619.78,101.80 L620.35,102.15 L620.93,102.50 L621.50,102.86 L622.07,103.23 L622.65,103.60 L623.22,103.97 L623.80,104.34 L624.37,104.72 L624.94,105.10 L625.52,105.49 L626.09,105.88 L626.67,106.27 L627.24,106.66 L627.81,107.06 L628.39,107.45 L628.96,107.85 L629.54,108.26 L630.11,108.66 L630.68,109.06 L631.26,109.47 L631.83,109.88 L632.41,110.29 L632.98,110.70 L633.55,111.10 L634.13,111.52 L634.70,111.93 L635.28,112.34 L635.85,112.75 L636.42,113.16 L637.00,113.57 L637.57,113.98 L638.15,114.40 L638.72,114.81 L639.29,115.22 L639.87,115.63 L640.44,116.04 L641.02,116.45 L641.59,116.86 L642.16,117.27 L642.74,117.68 L643.31,118.09 L643.89,118.49 L644.46,118.90 L645.03,119.31 L645.61,119.71 L646.18,120.12 L646.76,120.53 L647.33,120.93 L647.90,121.34 L648.48,121.74 L649.05,122.15 L649.63,122.55 L650.20,122.96 L650.77,123.36 L651.35,123.77 L651.92,124.18 L652.50,124.58 L653.07,124.99 L653.64,125.40 L654.22,125.81 L654.79,126.22 L655.37,126.63 L655.94,127.05 L656.51,127.46 L657.09,127.88 L657.66,128.29 L658.24,128.71 L658.81,129.14 L659.38,129.56 L659.96,129.98 L660.53,130.41 L661.11,130.84 L661.68,131.28 L662.25,131.71 L662.83,132.15 L663.40,132.59 L663.98,133.03 L664.55,133.47 L665.12,133.92 L665.70,134.37 L666.27,134.82 L666.85,135.28 L667.42,135.74 L667.99,136.20 L668.57,136.66 L669.14,137.12 L669.72,137.59 L670.29,138.05 L670.86,138.52 L671.44,139.00 L672.01,139.47 L672.59,139.94 L673.16,140.42 L673.73,140.89 L674.31,141.37 L674.88,141.84 L675.46,142.32 L676.03,142.79 L676.60,143.27 L677.18,143.74 L677.75,144.22 L678.33,144.69 L678.90,145.15 L679.47,145.62 L680.05,146.08 L680.62,146.54 L681.20,147.00 L681.77,147.45 L682.34,147.90 L682.92,148.34 L683.49,148.78 L684.07,149.21 L684.64,149.64 L685.21,150.06 L685.79,150.47 L686.36,150.88 L686.94,151.28 L687.51,151.67 L688.08,152.05 L688.66,152.43 L689.23,152.79 L689.81,153.15 L690.38,153.49 L690.95,153.83 L691.53,154.16 L692.10,154.47 L692.68,154.78 L693.25,155.07 L693.82,155.36 L694.40,155.63 L694.97,155.89 L695.55,156.14 L696.12,156.38 L696.69,156.61 L697.27,156.83 L697.84,157.03 L698.42,157.22 L698.99,157.41 L699.56,157.58 L700.14,157.73 L700.71,157.88 L701.29,158.02 L701.86,158.14 L702.43,158.26 L703.01,158.36 L703.58,158.45 L704.16,158.54 L704.73,158.61 L705.30,158.68 L705.88,158.73 L706.45,158.78 L707.03,158.82 L707.60,158.85 L708.17,158.87 L708.75,158.89 L709.32,158.91 L709.90,158.92 L710.47,158.92 L711.04,158.92 L711.62,158.90 L712.19,158.88 L712.77,158.86 L713.34,158.82 L713.91,158.78 L714.49,158.73 L715.06,158.68 L715.64,158.61 L716.21,158.54 L716.78,158.46 L717.36,158.38 L717.93,158.28 L718.51,158.18 L719.08,158.08 L719.65,157.96 L720.23,157.84 L720.80,157.72 L721.38,157.58 L721.95,157.44 L722.52,157.29 L723.10,157.14 L723.67,156.98 L724.25,156.82 L724.82,156.65 L725.39,156.47 L725.97,156.29 L726.54,156.10 L727.12,155.91 L727.69,155.71 L728.26,155.51 L728.84,155.30 L729.41,155.09 L729.99,154.88 L730.56,154.66 L731.13,154.44 L731.71,154.21 L732.28,153.98 L732.86,153.75 L733.43,153.51 L734.00,153.27 L734.58,153.03 L735.15,152.78 L735.73,152.53 L736.30,152.29" stroke="#828282" class="cvb"/>
<rect x="449.3" y="7.0" width="287.00" height="231.50" class="frb"/>
<path d="M449.30,238.5v4.3 M521.05,238.5v4.3 M592.80,238.5v4.3 M664.55,238.5v4.3 M736.30,238.5v4.3 M485.18,238.5v-2.5 M485.18,7.0v2.5 M556.92,238.5v-2.5 M556.92,7.0v2.5 M628.67,238.5v-2.5 M628.67,7.0v2.5 M700.42,238.5v-2.5 M700.42,7.0v2.5 M521.05,7.0v2.5 M592.80,7.0v2.5 M664.55,7.0v2.5 M449.3,32.72h-4.5 M449.3,84.17h-4.5 M449.3,135.61h-4.5 M449.3,187.06h-4.5 M449.3,238.50h-4.5 M449.3,58.44h-2.5 M449.3,109.89h-2.5 M449.3,161.33h-2.5 M449.3,212.78h-2.5 M736.3,32.72h-2.5 M736.3,58.44h-2.5 M736.3,84.17h-2.5 M736.3,109.89h-2.5 M736.3,135.61h-2.5 M736.3,161.33h-2.5 M736.3,187.06h-2.5 M736.3,212.78h-2.5" class="tkb"/>
<text x="449.60" y="253.6" class="tl" text-anchor="middle">-500</text>
<text x="521.35" y="253.6" class="tl" text-anchor="middle">-250</text>
<text x="593.10" y="253.6" class="tl" text-anchor="middle">0</text>
<text x="664.85" y="253.6" class="tl" text-anchor="middle">250</text>
<text x="736.60" y="253.6" class="tl" text-anchor="middle">500</text>
<text x="435.8" y="36.12" class="tl" text-anchor="end">2.0x10</text>
<text x="435.8" y="30.92" class="sup">-3</text>
<text x="435.8" y="87.57" class="tl" text-anchor="end">1.0x10</text>
<text x="435.8" y="82.37" class="sup">-3</text>
<text x="435.8" y="190.46" class="tl" text-anchor="end">-1.0x10</text>
<text x="435.8" y="185.26" class="sup">-3</text>
<text x="435.8" y="241.90" class="tl" text-anchor="end">-2.0x10</text>
<text x="435.8" y="236.70" class="sup">-3</text>
<text x="441.4" y="139.01" class="tl" text-anchor="end">0.0</text>
<text transform="translate(389.5,123.9) rotate(-90)" class="ti" text-anchor="middle">Variation Rate of Magnetic Induction</text>
<text transform="translate(404.8,123.9) rotate(-90)" class="ti" text-anchor="middle">Intensity Along Y Axis / mT/um</text>
<text x="591.3" y="269.2" class="ti" text-anchor="middle">Y / um</text>
<text x="594.5" y="287.6" class="cap" text-anchor="middle">(b)</text>
<rect x="455.4" y="15.7" width="83.1" height="77.6" class="lgb"/>
<line x1="456.9" y1="22.70" x2="478.3" y2="22.70" stroke="#ee7780" stroke-width="1.2"/>
<text x="481.1" y="26.00" class="ltb">Gap = 60um</text>
<line x1="456.9" y1="35.36" x2="478.3" y2="35.36" stroke="#5b8cc0" stroke-width="1.2"/>
<text x="481.1" y="38.66" class="ltb">Gap = 80um</text>
<line x1="456.9" y1="48.02" x2="478.3" y2="48.02" stroke="#f6bd3a" stroke-width="1.2"/>
<text x="481.1" y="51.32" class="ltb">Gap = 100um</text>
<line x1="456.9" y1="60.68" x2="478.3" y2="60.68" stroke="#5fc088" stroke-width="1.2"/>
<text x="481.1" y="63.98" class="ltb">Gap = 120um</text>
<line x1="456.9" y1="73.34" x2="478.3" y2="73.34" stroke="#7a74b8" stroke-width="1.2"/>
<text x="481.1" y="76.64" class="ltb">Gap = 140um</text>
<line x1="456.9" y1="86.00" x2="478.3" y2="86.00" stroke="#8a8a8a" stroke-width="1.2"/>
<text x="481.1" y="89.30" class="ltb">Gap = 160um</text>
</svg></body></html>
